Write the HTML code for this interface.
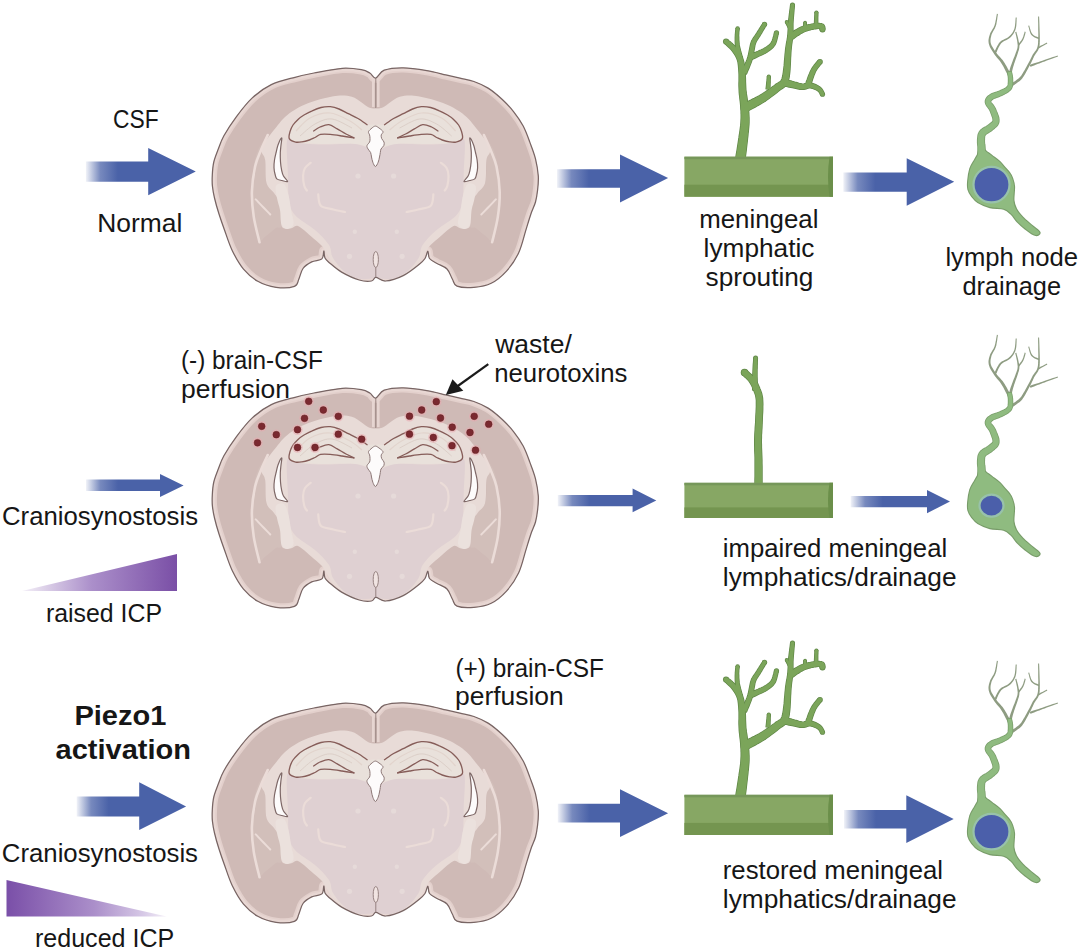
<!DOCTYPE html><html><head><meta charset="utf-8"><style>html,body{margin:0;padding:0;background:#fff;}svg{display:block}text{font-family:"Liberation Sans",sans-serif;fill:#161616}</style></head><body>
<svg width="1080" height="950" viewBox="0 0 1080 950">
<rect width="1080" height="950" fill="#fff"/>
<defs><clipPath id="bclip"><path d="M375.8 78C378.2 77.5 379.6 71.9 384.2 70.2C388.8 68.5 396 67.7 403.1 67.8C410.2 67.9 419.7 69.4 426.8 70.6C433.9 71.8 440.3 73.6 445.8 74.9C451.3 76.2 455.3 77.1 460 78.2C464.7 79.3 469.2 79.8 473.9 81.5C478.6 83.2 483.4 85.1 488.1 88.1C492.8 91.1 498 95.5 502.3 99.5C506.6 103.5 510.2 107.4 513.7 111.8C517.2 116.2 520.5 121 523.2 126C525.9 131.1 527.8 136.6 529.8 142.1C531.8 147.6 534.1 153.2 535.5 158.9C536.9 164.6 537.9 170.8 538.3 176C538.6 181.2 538.1 185.7 537.6 190C537.1 194.3 536.6 198 535.5 202C534.4 206 532.5 209.3 530.9 214C529.3 218.7 527.8 223.9 525.8 230.4C523.8 236.9 521.9 246 518.7 252.8C515.5 259.6 511.1 266 506.5 271.1C501.9 276.2 496.6 280.6 491.2 283.3C485.8 286 479.6 286.9 473.9 287.4C468.2 287.9 460.6 287.6 457 286.2C453.4 284.8 454 281.9 452.3 279C450.6 276.1 449.6 271.6 447 269C444.4 266.4 439.9 265.2 437 263.5C434.1 261.8 431 260.6 429.5 258.5C428 256.4 428.6 251 427.8 251C427.1 251 426.5 256.2 425 258.5C423.5 260.8 422.6 261.6 419 264.5C415.4 267.4 408.8 272.9 403.2 275.6C397.6 278.4 390.2 280.7 385.6 281C381.1 281.3 378.2 277.4 375.9 277.4C373.5 277.4 374.3 280.6 371.5 281C368.7 281.4 364.2 281.5 359.2 280C354.2 278.5 346.5 274.9 341.6 272.1C336.7 269.3 332.5 265.4 329.7 263C326.9 260.6 326 260 325 258C324 256 324.3 250.8 323.8 251C323.3 251.2 323.9 257.1 321.9 258.9C319.9 260.7 314.8 260.3 311.7 261.9C308.6 263.5 305.1 265.6 303 268.5C300.9 271.4 300.2 276.2 298.8 279.2C297.4 282.2 298.2 285 294.4 286.4C290.6 287.8 282.2 288.2 276.1 287.4C270 286.5 263.2 284.4 257.8 281.3C252.4 278.2 247.8 274.2 243.5 269.1C239.2 264 235.5 257.2 232.3 250.7C229.1 244.2 226.7 236.1 224.5 230C222.3 223.9 220.7 219.3 219 214C217.3 208.7 215.6 202.7 214.5 198C213.4 193.3 212.8 189.8 212.4 186C212 182.2 212.1 179 212.3 175C212.5 171 212.8 166.3 213.8 162C214.8 157.7 216.6 153.4 218.3 149C220 144.6 220.9 141.2 223.9 135.8C226.9 130.4 231.6 123.1 236.3 116.8C241 110.5 246.5 103.3 252.3 97.9C258.1 92.5 264.2 88 271.3 84.6C278.4 81.2 287.9 79.2 295 77.3C302.1 75.4 306.1 74.5 314 73C321.9 71.5 334.4 68.8 342.3 68.3C350.2 67.8 356.7 68.9 361.3 69.7C365.9 70.5 367.4 71.6 369.8 73C372.2 74.4 373.4 78.5 375.8 78Z"/></clipPath><g id="brain"><path d="M375.8 78C378.2 77.5 379.6 71.9 384.2 70.2C388.8 68.5 396 67.7 403.1 67.8C410.2 67.9 419.7 69.4 426.8 70.6C433.9 71.8 440.3 73.6 445.8 74.9C451.3 76.2 455.3 77.1 460 78.2C464.7 79.3 469.2 79.8 473.9 81.5C478.6 83.2 483.4 85.1 488.1 88.1C492.8 91.1 498 95.5 502.3 99.5C506.6 103.5 510.2 107.4 513.7 111.8C517.2 116.2 520.5 121 523.2 126C525.9 131.1 527.8 136.6 529.8 142.1C531.8 147.6 534.1 153.2 535.5 158.9C536.9 164.6 537.9 170.8 538.3 176C538.6 181.2 538.1 185.7 537.6 190C537.1 194.3 536.6 198 535.5 202C534.4 206 532.5 209.3 530.9 214C529.3 218.7 527.8 223.9 525.8 230.4C523.8 236.9 521.9 246 518.7 252.8C515.5 259.6 511.1 266 506.5 271.1C501.9 276.2 496.6 280.6 491.2 283.3C485.8 286 479.6 286.9 473.9 287.4C468.2 287.9 460.6 287.6 457 286.2C453.4 284.8 454 281.9 452.3 279C450.6 276.1 449.6 271.6 447 269C444.4 266.4 439.9 265.2 437 263.5C434.1 261.8 431 260.6 429.5 258.5C428 256.4 428.6 251 427.8 251C427.1 251 426.5 256.2 425 258.5C423.5 260.8 422.6 261.6 419 264.5C415.4 267.4 408.8 272.9 403.2 275.6C397.6 278.4 390.2 280.7 385.6 281C381.1 281.3 378.2 277.4 375.9 277.4C373.5 277.4 374.3 280.6 371.5 281C368.7 281.4 364.2 281.5 359.2 280C354.2 278.5 346.5 274.9 341.6 272.1C336.7 269.3 332.5 265.4 329.7 263C326.9 260.6 326 260 325 258C324 256 324.3 250.8 323.8 251C323.3 251.2 323.9 257.1 321.9 258.9C319.9 260.7 314.8 260.3 311.7 261.9C308.6 263.5 305.1 265.6 303 268.5C300.9 271.4 300.2 276.2 298.8 279.2C297.4 282.2 298.2 285 294.4 286.4C290.6 287.8 282.2 288.2 276.1 287.4C270 286.5 263.2 284.4 257.8 281.3C252.4 278.2 247.8 274.2 243.5 269.1C239.2 264 235.5 257.2 232.3 250.7C229.1 244.2 226.7 236.1 224.5 230C222.3 223.9 220.7 219.3 219 214C217.3 208.7 215.6 202.7 214.5 198C213.4 193.3 212.8 189.8 212.4 186C212 182.2 212.1 179 212.3 175C212.5 171 212.8 166.3 213.8 162C214.8 157.7 216.6 153.4 218.3 149C220 144.6 220.9 141.2 223.9 135.8C226.9 130.4 231.6 123.1 236.3 116.8C241 110.5 246.5 103.3 252.3 97.9C258.1 92.5 264.2 88 271.3 84.6C278.4 81.2 287.9 79.2 295 77.3C302.1 75.4 306.1 74.5 314 73C321.9 71.5 334.4 68.8 342.3 68.3C350.2 67.8 356.7 68.9 361.3 69.7C365.9 70.5 367.4 71.6 369.8 73C372.2 74.4 373.4 78.5 375.8 78Z" fill="#cfbab6"/><g clip-path="url(#bclip)"><path d="M375.8 78C378.2 77.5 379.6 71.9 384.2 70.2C388.8 68.5 396 67.7 403.1 67.8C410.2 67.9 419.7 69.4 426.8 70.6C433.9 71.8 440.3 73.6 445.8 74.9C451.3 76.2 455.3 77.1 460 78.2C464.7 79.3 469.2 79.8 473.9 81.5C478.6 83.2 483.4 85.1 488.1 88.1C492.8 91.1 498 95.5 502.3 99.5C506.6 103.5 510.2 107.4 513.7 111.8C517.2 116.2 520.5 121 523.2 126C525.9 131.1 527.8 136.6 529.8 142.1C531.8 147.6 534.1 153.2 535.5 158.9C536.9 164.6 537.9 170.8 538.3 176C538.6 181.2 538.1 185.7 537.6 190C537.1 194.3 536.6 198 535.5 202C534.4 206 532.5 209.3 530.9 214C529.3 218.7 527.8 223.9 525.8 230.4C523.8 236.9 521.9 246 518.7 252.8C515.5 259.6 511.1 266 506.5 271.1C501.9 276.2 496.6 280.6 491.2 283.3C485.8 286 479.6 286.9 473.9 287.4C468.2 287.9 460.6 287.6 457 286.2C453.4 284.8 454 281.9 452.3 279C450.6 276.1 449.6 271.6 447 269C444.4 266.4 439.9 265.2 437 263.5C434.1 261.8 431 260.6 429.5 258.5C428 256.4 428.6 251 427.8 251C427.1 251 426.5 256.2 425 258.5C423.5 260.8 422.6 261.6 419 264.5C415.4 267.4 408.8 272.9 403.2 275.6C397.6 278.4 390.2 280.7 385.6 281C381.1 281.3 378.2 277.4 375.9 277.4C373.5 277.4 374.3 280.6 371.5 281C368.7 281.4 364.2 281.5 359.2 280C354.2 278.5 346.5 274.9 341.6 272.1C336.7 269.3 332.5 265.4 329.7 263C326.9 260.6 326 260 325 258C324 256 324.3 250.8 323.8 251C323.3 251.2 323.9 257.1 321.9 258.9C319.9 260.7 314.8 260.3 311.7 261.9C308.6 263.5 305.1 265.6 303 268.5C300.9 271.4 300.2 276.2 298.8 279.2C297.4 282.2 298.2 285 294.4 286.4C290.6 287.8 282.2 288.2 276.1 287.4C270 286.5 263.2 284.4 257.8 281.3C252.4 278.2 247.8 274.2 243.5 269.1C239.2 264 235.5 257.2 232.3 250.7C229.1 244.2 226.7 236.1 224.5 230C222.3 223.9 220.7 219.3 219 214C217.3 208.7 215.6 202.7 214.5 198C213.4 193.3 212.8 189.8 212.4 186C212 182.2 212.1 179 212.3 175C212.5 171 212.8 166.3 213.8 162C214.8 157.7 216.6 153.4 218.3 149C220 144.6 220.9 141.2 223.9 135.8C226.9 130.4 231.6 123.1 236.3 116.8C241 110.5 246.5 103.3 252.3 97.9C258.1 92.5 264.2 88 271.3 84.6C278.4 81.2 287.9 79.2 295 77.3C302.1 75.4 306.1 74.5 314 73C321.9 71.5 334.4 68.8 342.3 68.3C350.2 67.8 356.7 68.9 361.3 69.7C365.9 70.5 367.4 71.6 369.8 73C372.2 74.4 373.4 78.5 375.8 78Z" fill="none" stroke="#e3d0cc" stroke-width="9.5"/><path d="M375.8 78C378.2 77.5 379.6 71.9 384.2 70.2C388.8 68.5 396 67.7 403.1 67.8C410.2 67.9 419.7 69.4 426.8 70.6C433.9 71.8 440.3 73.6 445.8 74.9C451.3 76.2 455.3 77.1 460 78.2C464.7 79.3 469.2 79.8 473.9 81.5C478.6 83.2 483.4 85.1 488.1 88.1C492.8 91.1 498 95.5 502.3 99.5C506.6 103.5 510.2 107.4 513.7 111.8C517.2 116.2 520.5 121 523.2 126C525.9 131.1 527.8 136.6 529.8 142.1C531.8 147.6 534.1 153.2 535.5 158.9C536.9 164.6 537.9 170.8 538.3 176C538.6 181.2 538.1 185.7 537.6 190C537.1 194.3 536.6 198 535.5 202C534.4 206 532.5 209.3 530.9 214C529.3 218.7 527.8 223.9 525.8 230.4C523.8 236.9 521.9 246 518.7 252.8C515.5 259.6 511.1 266 506.5 271.1C501.9 276.2 496.6 280.6 491.2 283.3C485.8 286 479.6 286.9 473.9 287.4C468.2 287.9 460.6 287.6 457 286.2C453.4 284.8 454 281.9 452.3 279C450.6 276.1 449.6 271.6 447 269C444.4 266.4 439.9 265.2 437 263.5C434.1 261.8 431 260.6 429.5 258.5C428 256.4 428.6 251 427.8 251C427.1 251 426.5 256.2 425 258.5C423.5 260.8 422.6 261.6 419 264.5C415.4 267.4 408.8 272.9 403.2 275.6C397.6 278.4 390.2 280.7 385.6 281C381.1 281.3 378.2 277.4 375.9 277.4C373.5 277.4 374.3 280.6 371.5 281C368.7 281.4 364.2 281.5 359.2 280C354.2 278.5 346.5 274.9 341.6 272.1C336.7 269.3 332.5 265.4 329.7 263C326.9 260.6 326 260 325 258C324 256 324.3 250.8 323.8 251C323.3 251.2 323.9 257.1 321.9 258.9C319.9 260.7 314.8 260.3 311.7 261.9C308.6 263.5 305.1 265.6 303 268.5C300.9 271.4 300.2 276.2 298.8 279.2C297.4 282.2 298.2 285 294.4 286.4C290.6 287.8 282.2 288.2 276.1 287.4C270 286.5 263.2 284.4 257.8 281.3C252.4 278.2 247.8 274.2 243.5 269.1C239.2 264 235.5 257.2 232.3 250.7C229.1 244.2 226.7 236.1 224.5 230C222.3 223.9 220.7 219.3 219 214C217.3 208.7 215.6 202.7 214.5 198C213.4 193.3 212.8 189.8 212.4 186C212 182.2 212.1 179 212.3 175C212.5 171 212.8 166.3 213.8 162C214.8 157.7 216.6 153.4 218.3 149C220 144.6 220.9 141.2 223.9 135.8C226.9 130.4 231.6 123.1 236.3 116.8C241 110.5 246.5 103.3 252.3 97.9C258.1 92.5 264.2 88 271.3 84.6C278.4 81.2 287.9 79.2 295 77.3C302.1 75.4 306.1 74.5 314 73C321.9 71.5 334.4 68.8 342.3 68.3C350.2 67.8 356.7 68.9 361.3 69.7C365.9 70.5 367.4 71.6 369.8 73C372.2 74.4 373.4 78.5 375.8 78Z" fill="none" stroke="#e8d7d3" stroke-width="6"/><path d="M266 138C264.2 139.5 260.1 145 258 150C255.9 155 254.4 161 253.5 168C252.6 175 252.2 184.2 252.3 192C252.4 199.8 253 207 254 215C255 223 256.5 236.5 258.5 240C260.5 243.5 263.1 238 266 236C268.9 234 273.4 229.7 276 228C278.6 226.3 280.7 229.6 281.6 225.9C282.5 222.2 282.9 211.2 281.6 205.7C280.3 200.2 276.5 196.9 274 193.1C271.5 189.3 268 188.5 266.5 183C265 177.5 264.8 167.3 265.2 160.3C265.6 153.3 268.9 144.7 269 141C269.1 137.3 267.8 136.5 266 138Z" fill="#d2bfba"/><path d="M485.6 138C487.4 139.5 491.5 145 493.6 150C495.7 155 497.2 161 498.1 168C499.1 175 499.4 184.2 499.3 192C499.2 199.8 498.6 207 497.6 215C496.6 223 495.1 236.5 493.1 240C491.1 243.5 488.5 238 485.6 236C482.7 234 478.2 229.7 475.6 228C473 226.3 470.9 229.6 470 225.9C469.1 222.2 468.7 211.2 470 205.7C471.3 200.2 475.1 196.9 477.6 193.1C480.1 189.3 483.6 188.5 485.1 183C486.6 177.5 486.8 167.3 486.4 160.3C486 153.3 482.7 144.7 482.6 141C482.5 137.3 483.8 136.5 485.6 138Z" fill="#d2bfba"/><path d="M375.8 108.5C373.5 108.5 371.3 108.6 368.9 107.6C366.5 106.6 364.1 104.1 361.3 102.3C358.5 100.5 355.8 97.8 351.8 96.7C347.9 95.6 342.9 95.3 337.6 95.7C332.3 96.1 325.4 97.8 320 99.3C314.6 100.8 309.7 102.5 305 104.5C300.3 106.5 295.7 109.1 292 111.5C288.3 113.9 285.7 116.3 283 119C280.3 121.7 278.4 124.5 276 127.5C273.6 130.5 271 133.6 268.5 137C266 140.4 262.1 145.3 261 148C259.9 150.7 261.3 150.9 262 153C262.7 155.1 264.4 155.3 265.2 160.3C265.9 165.3 265 177.5 266.5 183C268 188.5 271.5 189.3 274 193.1C276.5 196.9 280.3 200.2 281.6 205.7C282.9 211.2 280.1 222.1 281.6 225.9C283.1 229.7 287.8 228.4 290.5 228.4C293.2 228.4 294.6 224.6 298 225.9C301.4 227.2 306.9 232.8 310.7 236C314.5 239.2 318.4 242.3 321 245C323.6 247.7 324.2 249.2 326 252C327.8 254.8 328.8 258.5 332 262C335.2 265.5 340.3 270.2 345 273C349.7 275.8 354.9 278.2 360 279C365.1 279.8 370.5 278 375.8 278C381.1 278 386.5 279.8 391.6 279C396.7 278.2 401.9 275.8 406.6 273C411.3 270.2 416.4 265.5 419.6 262C422.8 258.5 423.8 254.8 425.6 252C427.4 249.2 428.1 247.7 430.6 245C433.2 242.3 437.1 239.2 440.9 236C444.7 232.8 450.2 227.2 453.6 225.9C457 224.6 458.4 228.4 461.1 228.4C463.8 228.4 468.5 229.7 470 225.9C471.5 222.1 468.7 211.2 470 205.7C471.3 200.2 475.1 196.9 477.6 193.1C480.1 189.3 483.6 188.5 485.1 183C486.6 177.5 485.7 165.3 486.4 160.3C487.2 155.3 488.9 155.1 489.6 153C490.3 150.9 491.7 150.7 490.6 148C489.5 145.3 485.6 140.4 483.1 137C480.6 133.6 478 130.5 475.6 127.5C473.2 124.5 471.3 121.7 468.6 119C465.9 116.3 463.3 113.9 459.6 111.5C455.9 109.1 451.3 106.5 446.6 104.5C441.9 102.5 437 100.8 431.6 99.3C426.2 97.8 419.3 96.1 414 95.7C408.7 95.3 403.8 95.6 399.8 96.7C395.9 97.8 393.1 100.5 390.3 102.3C387.5 104.1 385.1 106.6 382.7 107.6C380.3 108.6 378.1 108.5 375.8 108.5Z" fill="#e8dbd7"/><path d="M375.8 151C372.5 151 369.7 148.2 366 147C362.3 145.8 359.4 143.9 353.4 143.5C347.4 143.1 337.2 144.4 330 144.5C322.8 144.6 316 144.4 310 144C304 143.6 297.8 142.5 294 142C290.2 141.5 288 135.8 287 141C286 146.2 287.6 163.1 287.9 172.9C288.2 182.7 287.8 193 289 200C290.2 207 290.7 210 295 215C299.3 220 309.3 225 315 230C320.7 235 326 240.3 329 245C332 249.7 330.3 253.5 333 258C335.7 262.5 340.5 268.5 345 272C349.5 275.5 354.9 278 360 279C365.1 280 370.5 278 375.8 278C381.1 278 386.5 280 391.6 279C396.7 278 402.1 275.5 406.6 272C411.1 268.5 415.9 262.5 418.6 258C421.3 253.5 419.6 249.7 422.6 245C425.6 240.3 430.9 235 436.6 230C442.3 225 452.3 220 456.6 215C460.9 210 461.4 207 462.6 200C463.8 193 463.4 182.7 463.7 172.9C464 163.1 465.6 146.2 464.6 141C463.6 135.8 461.4 141.5 457.6 142C453.8 142.5 447.6 143.6 441.6 144C435.6 144.4 428.8 144.6 421.6 144.5C414.4 144.4 404.2 143.1 398.2 143.5C392.2 143.9 389.3 145.8 385.6 147C381.9 148.2 379.1 151 375.8 151Z" fill="#dfd0d2"/></g><path d="M267.7 135C266.6 137.5 263.1 144.7 261 150C258.9 155.3 256.6 159.6 255.1 166.6C253.6 173.6 252.1 183.4 251.9 191.8C251.7 200.2 252.5 208.7 253.8 217.1C255.1 225.5 258.6 238.1 259.5 242.3" fill="none" stroke="#ebdcd8" stroke-width="2.6" stroke-linecap="round"/><path d="M255.7 199.4C256.9 200.7 260.6 204.5 263 207C265.4 209.5 269.1 213.2 270.3 214.5" fill="none" stroke="#ebdcd8" stroke-width="2.0" stroke-linecap="round"/><path d="M310.7 162.8C309.8 163.7 306.3 165.8 305 168C303.7 170.2 303.2 173 303.1 176C303 179 303.7 183.6 304.3 186C304.9 188.4 306.5 189.8 306.9 190.6" fill="none" stroke="#ebdcd8" stroke-width="2.2" stroke-linecap="round"/><path d="M318.2 194.3C318.6 196.2 318.3 203.2 320.8 205.7C323.3 208.2 329.4 208.4 333.4 209.5C337.4 210.6 343.1 211.6 345 212" fill="none" stroke="#ebdcd8" stroke-width="2.2" stroke-linecap="round"/><path d="M276 186C277.2 183.7 281.9 182.5 284 184C286.1 185.5 287.3 190.7 288.5 195C289.7 199.3 290.2 205.2 291 210C291.8 214.8 294.2 220.8 293.5 224C292.8 227.2 289 229 287 229C285 229 282.7 227.2 281.5 224C280.3 220.8 280.8 214.3 280 210C279.2 205.7 277.7 202 277 198C276.3 194 274.8 188.3 276 186Z" fill="#ebe1dd"/><circle cx="358.0" cy="176.0" r="2.6" fill="#e6dad9"/><circle cx="354.8" cy="231.7" r="2.2" fill="#e6dad9"/><circle cx="349.5" cy="256.3" r="2.6" fill="#e6dad9"/><path d="M367.1 124.7C364.1 123.5 361.1 120.3 358 118.5C354.9 116.7 351.5 115.2 348.3 113.6C345.1 112 342 110.2 339 109C336 107.8 333.3 107 330.3 106.7C327.3 106.5 324 106.8 321 107.5C318 108.2 315 109.5 312.2 110.8C309.4 112 306.3 113.6 304 115C301.7 116.4 300.1 117.5 298.3 119.2C296.5 120.9 294.4 122.9 293 125C291.6 127.1 290.6 129.4 290 131.7C289.4 134 288.4 136.8 289.3 138.6C290.2 140.4 290.5 141.7 295.6 142.6C300.7 143.5 310.9 143.8 320 144C329.1 144.2 342.3 143.2 350 143.5C357.7 143.8 361.7 145.1 366 146C370.3 146.9 374.2 152.3 375.8 149C377.4 145.7 377.2 130.1 375.8 126C374.4 122 370.1 126 367.1 124.7Z" fill="#e9e1db"/><path d="M296 131C298.3 128.8 304.3 121 310 118C315.7 115 323.3 112.5 330 113C336.7 113.5 344.7 118.2 350 121C355.3 123.8 360 128.5 362 130" fill="none" stroke="#e2d4cd" stroke-width="1.2"/><path d="M300 136C302.5 134 309.7 126.8 315 124C320.3 121.2 325.8 118.3 332 119C338.2 119.7 348.7 126.5 352 128" fill="none" stroke="#dccfc8" stroke-width="1"/><path d="M367.1 124.7C365.6 123.7 361.1 120.3 358 118.5C354.9 116.7 351.5 115.2 348.3 113.6C345.1 112 342 110.2 339 109C336 107.8 333.3 107 330.3 106.7C327.3 106.5 324 106.8 321 107.5C318 108.2 315 109.5 312.2 110.8C309.4 112 306.3 113.6 304 115C301.7 116.4 300.1 117.5 298.3 119.2C296.5 120.9 294.4 122.9 293 125C291.6 127.1 290.6 129.4 290 131.7C289.4 134 288.4 136.9 289.3 138.6C290.2 140.3 293.5 141.6 295.6 142.1C297.7 142.6 299.7 142.2 302 141.8C304.3 141.5 307.2 140.7 309.4 140C311.6 139.3 313.1 138.4 315 137.5C316.9 136.6 318.1 134.9 320.6 134.4C323.2 133.9 326.7 134.1 330.3 134.4C333.9 134.7 338.1 135.4 342 136C345.9 136.6 351.9 137.6 353.9 137.9" fill="none" stroke="#865d59" stroke-width="1.35" stroke-linejoin="round" stroke-linecap="round"/><path d="M353.9 137.9C352.6 137.2 348.8 135.5 346 134C343.2 132.5 340.1 130.5 337.2 128.9C334.3 127.4 331.8 125 328.9 124.7C326 124.4 322.6 126 320 127C317.4 128.1 314.7 130.3 313.6 131" fill="none" stroke="#865d59" stroke-width="1.3" stroke-linecap="round"/><path d="M281.7 137.9C281.2 137.9 278.9 142.6 278 145C277.1 147.4 276.7 150 276.1 152.5C275.5 155 274.9 157.4 274.5 160C274.1 162.6 273.9 165.5 274 167.8C274.1 170.1 274.5 172.2 275 174C275.5 175.8 275.6 177.8 276.8 178.9C278 180 280.2 180.1 282 180.5C283.8 180.9 287.4 182.2 287.6 181.5C287.9 180.8 284.5 177.8 283.5 176C282.5 174.2 282.2 172.9 281.7 170.6C281.2 168.3 280.7 165 280.5 162C280.3 159 280.2 155.3 280.3 152.5C280.4 149.7 280.8 147.4 281 145C281.2 142.6 282.2 137.9 281.7 137.9Z" fill="#fdfbfb" stroke="#7d6766" stroke-width="1.2"/><path d="M483.9 135C485 137.5 488.5 144.7 490.6 150C492.7 155.3 495 159.6 496.5 166.6C498 173.6 499.5 183.4 499.7 191.8C499.9 200.2 499.1 208.7 497.8 217.1C496.5 225.5 493.1 238.1 492.1 242.3" fill="none" stroke="#ebdcd8" stroke-width="2.6" stroke-linecap="round"/><path d="M495.9 199.4C494.7 200.7 491 204.5 488.6 207C486.2 209.5 482.5 213.2 481.3 214.5" fill="none" stroke="#ebdcd8" stroke-width="2.0" stroke-linecap="round"/><path d="M440.9 162.8C441.9 163.7 445.3 165.8 446.6 168C447.9 170.2 448.4 173 448.5 176C448.6 179 447.9 183.6 447.3 186C446.7 188.4 445.1 189.8 444.7 190.6" fill="none" stroke="#ebdcd8" stroke-width="2.2" stroke-linecap="round"/><path d="M433.4 194.3C433 196.2 433.3 203.2 430.8 205.7C428.3 208.2 422.2 208.4 418.2 209.5C414.2 210.6 408.5 211.6 406.6 212" fill="none" stroke="#ebdcd8" stroke-width="2.2" stroke-linecap="round"/><path d="M475.6 186C474.4 183.7 469.7 182.5 467.6 184C465.5 185.5 464.3 190.7 463.1 195C461.9 199.3 461.4 205.2 460.6 210C459.8 214.8 457.4 220.8 458.1 224C458.8 227.2 462.6 229 464.6 229C466.6 229 468.9 227.2 470.1 224C471.3 220.8 470.9 214.3 471.6 210C472.4 205.7 473.9 202 474.6 198C475.3 194 476.8 188.3 475.6 186Z" fill="#ebe1dd"/><circle cx="393.6" cy="176.0" r="2.6" fill="#e6dad9"/><circle cx="396.8" cy="231.7" r="2.2" fill="#e6dad9"/><circle cx="402.1" cy="256.3" r="2.6" fill="#e6dad9"/><path d="M384.5 124.7C387.5 123.5 390.5 120.3 393.6 118.5C396.7 116.7 400.1 115.2 403.3 113.6C406.5 112 409.6 110.2 412.6 109C415.6 107.8 418.3 107 421.3 106.7C424.3 106.5 427.6 106.8 430.6 107.5C433.6 108.2 436.6 109.5 439.4 110.8C442.2 112 445.3 113.6 447.6 115C449.9 116.4 451.5 117.5 453.3 119.2C455.1 120.9 457.2 122.9 458.6 125C460 127.1 461 129.4 461.6 131.7C462.2 134 463.2 136.8 462.3 138.6C461.4 140.4 461.1 141.7 456 142.6C450.9 143.5 440.7 143.8 431.6 144C422.5 144.2 409.3 143.2 401.6 143.5C393.9 143.8 389.9 145.1 385.6 146C381.3 146.9 377.4 152.3 375.8 149C374.2 145.7 374.4 130.1 375.8 126C377.2 122 381.5 126 384.5 124.7Z" fill="#e9e1db"/><path d="M455.6 131C453.3 128.8 447.3 121 441.6 118C435.9 115 428.3 112.5 421.6 113C414.9 113.5 406.9 118.2 401.6 121C396.3 123.8 391.6 128.5 389.6 130" fill="none" stroke="#e2d4cd" stroke-width="1.2"/><path d="M451.6 136C449.1 134 441.9 126.8 436.6 124C431.3 121.2 425.8 118.3 419.6 119C413.4 119.7 402.9 126.5 399.6 128" fill="none" stroke="#dccfc8" stroke-width="1"/><path d="M384.5 124.7C386 123.7 390.5 120.3 393.6 118.5C396.7 116.7 400.1 115.2 403.3 113.6C406.5 112 409.6 110.2 412.6 109C415.6 107.8 418.3 107 421.3 106.7C424.3 106.5 427.6 106.8 430.6 107.5C433.6 108.2 436.6 109.5 439.4 110.8C442.2 112 445.3 113.6 447.6 115C449.9 116.4 451.5 117.5 453.3 119.2C455.1 120.9 457.2 122.9 458.6 125C460 127.1 461 129.4 461.6 131.7C462.2 134 463.2 136.9 462.3 138.6C461.4 140.3 458.1 141.6 456 142.1C453.9 142.6 451.9 142.2 449.6 141.8C447.3 141.5 444.4 140.7 442.2 140C440 139.3 438.5 138.4 436.6 137.5C434.7 136.6 433.6 134.9 431 134.4C428.4 133.9 424.9 134.1 421.3 134.4C417.7 134.7 413.5 135.4 409.6 136C405.7 136.6 399.7 137.6 397.7 137.9" fill="none" stroke="#865d59" stroke-width="1.35" stroke-linejoin="round" stroke-linecap="round"/><path d="M397.7 137.9C399 137.2 402.8 135.5 405.6 134C408.4 132.5 411.6 130.5 414.4 128.9C417.3 127.4 419.8 125 422.7 124.7C425.6 124.4 429.1 126 431.6 127C434.2 128.1 436.9 130.3 438 131" fill="none" stroke="#865d59" stroke-width="1.3" stroke-linecap="round"/><path d="M469.9 137.9C470.4 137.9 472.7 142.6 473.6 145C474.5 147.4 474.9 150 475.5 152.5C476.1 155 476.8 157.4 477.1 160C477.5 162.6 477.7 165.5 477.6 167.8C477.5 170.1 477.1 172.2 476.6 174C476.1 175.8 476 177.8 474.8 178.9C473.6 180 471.4 180.1 469.6 180.5C467.8 180.9 464.2 182.2 464 181.5C463.8 180.8 467.1 177.8 468.1 176C469.1 174.2 469.4 172.9 469.9 170.6C470.4 168.3 470.9 165 471.1 162C471.3 159 471.4 155.3 471.3 152.5C471.2 149.7 470.8 147.4 470.6 145C470.4 142.6 469.4 137.9 469.9 137.9Z" fill="#fdfbfb" stroke="#7d6766" stroke-width="1.2"/><path d="M373.3 80 L373.3 107 M378.3 80 L378.3 107" stroke="#e6d5d1" stroke-width="2.6" fill="none"/><path d="M375.8 78 L375.8 108" stroke="#8f7a78" stroke-width="0.9" fill="none"/><path d="M375.4 126.1C376.6 126.1 377.7 127.1 379 128C380.3 128.9 382.6 130.5 383 131.7C383.4 132.9 381.4 133.8 381.2 135C381 136.2 381.2 137.4 381.7 138.6C382.2 139.8 383.6 140.8 384 142C384.4 143.2 384.3 144.4 383.8 145.6C383.3 146.8 381.6 147.8 381 149C380.4 150.2 380.6 151.2 380.3 152.5C380.1 153.8 379.9 155.4 379.5 157C379.1 158.6 378.9 160.6 378.2 162.2C377.5 163.8 376.3 166.5 375.4 166.5C374.5 166.5 373.4 163.8 372.8 162.2C372.2 160.6 371.9 158.6 371.5 157C371.1 155.4 371.2 153.8 370.6 152.5C370 151.2 368.6 150.2 368 149C367.4 147.8 366.7 146.8 367 145.6C367.3 144.4 369.1 143.2 369.6 142C370.1 140.8 370 139.8 370 138.6C370 137.4 369.9 136.2 369.6 135C369.4 133.8 368.1 132.9 368.5 131.7C368.9 130.5 370.9 128.9 372 128C373.1 127.1 374.2 126.1 375.4 126.1Z" fill="#fdfbfb" stroke="#8d7877" stroke-width="1"/><ellipse cx="375.8" cy="259.5" rx="2.6" ry="8" fill="#f1e4e2" stroke="#8d7877" stroke-width="0.9"/><path d="M375.8 267.5 L375.8 278" stroke="#8d7877" stroke-width="0.9"/><path d="M375.8 78C378.2 77.5 379.6 71.9 384.2 70.2C388.8 68.5 396 67.7 403.1 67.8C410.2 67.9 419.7 69.4 426.8 70.6C433.9 71.8 440.3 73.6 445.8 74.9C451.3 76.2 455.3 77.1 460 78.2C464.7 79.3 469.2 79.8 473.9 81.5C478.6 83.2 483.4 85.1 488.1 88.1C492.8 91.1 498 95.5 502.3 99.5C506.6 103.5 510.2 107.4 513.7 111.8C517.2 116.2 520.5 121 523.2 126C525.9 131.1 527.8 136.6 529.8 142.1C531.8 147.6 534.1 153.2 535.5 158.9C536.9 164.6 537.9 170.8 538.3 176C538.6 181.2 538.1 185.7 537.6 190C537.1 194.3 536.6 198 535.5 202C534.4 206 532.5 209.3 530.9 214C529.3 218.7 527.8 223.9 525.8 230.4C523.8 236.9 521.9 246 518.7 252.8C515.5 259.6 511.1 266 506.5 271.1C501.9 276.2 496.6 280.6 491.2 283.3C485.8 286 479.6 286.9 473.9 287.4C468.2 287.9 460.6 287.6 457 286.2C453.4 284.8 454 281.9 452.3 279C450.6 276.1 449.6 271.6 447 269C444.4 266.4 439.9 265.2 437 263.5C434.1 261.8 431 260.6 429.5 258.5C428 256.4 428.6 251 427.8 251C427.1 251 426.5 256.2 425 258.5C423.5 260.8 422.6 261.6 419 264.5C415.4 267.4 408.8 272.9 403.2 275.6C397.6 278.4 390.2 280.7 385.6 281C381.1 281.3 378.2 277.4 375.9 277.4C373.5 277.4 374.3 280.6 371.5 281C368.7 281.4 364.2 281.5 359.2 280C354.2 278.5 346.5 274.9 341.6 272.1C336.7 269.3 332.5 265.4 329.7 263C326.9 260.6 326 260 325 258C324 256 324.3 250.8 323.8 251C323.3 251.2 323.9 257.1 321.9 258.9C319.9 260.7 314.8 260.3 311.7 261.9C308.6 263.5 305.1 265.6 303 268.5C300.9 271.4 300.2 276.2 298.8 279.2C297.4 282.2 298.2 285 294.4 286.4C290.6 287.8 282.2 288.2 276.1 287.4C270 286.5 263.2 284.4 257.8 281.3C252.4 278.2 247.8 274.2 243.5 269.1C239.2 264 235.5 257.2 232.3 250.7C229.1 244.2 226.7 236.1 224.5 230C222.3 223.9 220.7 219.3 219 214C217.3 208.7 215.6 202.7 214.5 198C213.4 193.3 212.8 189.8 212.4 186C212 182.2 212.1 179 212.3 175C212.5 171 212.8 166.3 213.8 162C214.8 157.7 216.6 153.4 218.3 149C220 144.6 220.9 141.2 223.9 135.8C226.9 130.4 231.6 123.1 236.3 116.8C241 110.5 246.5 103.3 252.3 97.9C258.1 92.5 264.2 88 271.3 84.6C278.4 81.2 287.9 79.2 295 77.3C302.1 75.4 306.1 74.5 314 73C321.9 71.5 334.4 68.8 342.3 68.3C350.2 67.8 356.7 68.9 361.3 69.7C365.9 70.5 367.4 71.6 369.8 73C372.2 74.4 373.4 78.5 375.8 78Z" fill="none" stroke="#786564" stroke-width="1.25"/></g><linearGradient id="ag0" gradientUnits="userSpaceOnUse" x1="85.9" y1="0" x2="117.9" y2="0"><stop offset="0" stop-color="#4a62a8" stop-opacity="0.08"/><stop offset="0.45" stop-color="#4a62a8" stop-opacity="0.75"/><stop offset="1" stop-color="#4a62a8"/></linearGradient><linearGradient id="ag1" gradientUnits="userSpaceOnUse" x1="557" y1="0" x2="589" y2="0"><stop offset="0" stop-color="#4a62a8" stop-opacity="0.08"/><stop offset="0.45" stop-color="#4a62a8" stop-opacity="0.75"/><stop offset="1" stop-color="#4a62a8"/></linearGradient><linearGradient id="ag2" gradientUnits="userSpaceOnUse" x1="843.3" y1="0" x2="875.3" y2="0"><stop offset="0" stop-color="#4a62a8" stop-opacity="0.08"/><stop offset="0.45" stop-color="#4a62a8" stop-opacity="0.75"/><stop offset="1" stop-color="#4a62a8"/></linearGradient><linearGradient id="ag3" gradientUnits="userSpaceOnUse" x1="86" y1="0" x2="118" y2="0"><stop offset="0" stop-color="#4a62a8" stop-opacity="0.08"/><stop offset="0.45" stop-color="#4a62a8" stop-opacity="0.75"/><stop offset="1" stop-color="#4a62a8"/></linearGradient><linearGradient id="ag4" gradientUnits="userSpaceOnUse" x1="557.8" y1="0" x2="589.8" y2="0"><stop offset="0" stop-color="#4a62a8" stop-opacity="0.08"/><stop offset="0.45" stop-color="#4a62a8" stop-opacity="0.75"/><stop offset="1" stop-color="#4a62a8"/></linearGradient><linearGradient id="ag5" gradientUnits="userSpaceOnUse" x1="850.7" y1="0" x2="882.7" y2="0"><stop offset="0" stop-color="#4a62a8" stop-opacity="0.08"/><stop offset="0.45" stop-color="#4a62a8" stop-opacity="0.75"/><stop offset="1" stop-color="#4a62a8"/></linearGradient><linearGradient id="ag6" gradientUnits="userSpaceOnUse" x1="76.7" y1="0" x2="108.7" y2="0"><stop offset="0" stop-color="#4a62a8" stop-opacity="0.08"/><stop offset="0.45" stop-color="#4a62a8" stop-opacity="0.75"/><stop offset="1" stop-color="#4a62a8"/></linearGradient><linearGradient id="ag7" gradientUnits="userSpaceOnUse" x1="557.8" y1="0" x2="589.8" y2="0"><stop offset="0" stop-color="#4a62a8" stop-opacity="0.08"/><stop offset="0.45" stop-color="#4a62a8" stop-opacity="0.75"/><stop offset="1" stop-color="#4a62a8"/></linearGradient><linearGradient id="ag8" gradientUnits="userSpaceOnUse" x1="844" y1="0" x2="876" y2="0"><stop offset="0" stop-color="#4a62a8" stop-opacity="0.08"/><stop offset="0.45" stop-color="#4a62a8" stop-opacity="0.75"/><stop offset="1" stop-color="#4a62a8"/></linearGradient><linearGradient id="pr" gradientUnits="userSpaceOnUse" x1="22" y1="0" x2="177" y2="0"><stop offset="0" stop-color="#f4f0f8"/><stop offset="0.15" stop-color="#dcd0e8"/><stop offset="0.45" stop-color="#ab8fca"/><stop offset="1" stop-color="#7a4fa6"/></linearGradient><linearGradient id="pl" gradientUnits="userSpaceOnUse" x1="6.5" y1="0" x2="166.7" y2="0"><stop offset="0" stop-color="#7a4fa8"/><stop offset="0.55" stop-color="#ab8fca"/><stop offset="0.85" stop-color="#d6c8e6"/><stop offset="1" stop-color="#f4f0f8"/></linearGradient><g id="tree1"><path d="M745.1 158.7 L745.3 157.3 L745.5 155.4 L745.8 153.2 L746.1 150.8 L746.4 148.2 L746.7 145.5 L747.0 142.9 L747.3 140.5 L747.5 138.3 L747.8 136.0 L748.0 133.7 L748.3 131.3 L748.5 129.0 L748.7 126.7 L748.9 124.4 L749.0 122.2 L749.0 120.1 L749.0 118.1 L748.9 116.2 L748.8 114.3 L748.7 112.4 L748.5 110.6 L748.4 108.7 L748.2 106.7 L747.9 104.6 L747.6 102.5 L747.3 100.3 L747.0 98.2 L746.7 96.1 L746.3 93.9 L746.1 91.8 L745.8 89.8 L745.7 87.7 L745.6 85.5 L745.5 83.2 L745.4 80.9 L745.4 78.7 L745.3 76.4 L745.2 74.3 L745.0 72.2 L744.8 70.3 L744.6 68.4 L744.4 66.6 L744.2 64.9 L743.9 63.1 L743.6 61.4 L743.1 59.8 L742.6 58.1 L742.0 56.5 L741.2 55.0 L740.5 53.6 L739.6 52.2 L738.7 50.9 L737.8 49.7 L736.9 48.5 L736.0 47.4 L734.9 46.2 L733.7 45.0 L732.5 43.9 L731.2 42.8 L730.1 41.8 L729.0 41.0 L728.2 40.3 L727.5 39.8 L724.5 43.2 L725.1 43.8 L726.0 44.6 L726.9 45.5 L728.0 46.4 L729.1 47.5 L730.2 48.5 L731.2 49.6 L732.0 50.6 L732.8 51.7 L733.6 52.8 L734.4 53.9 L735.1 55.0 L735.8 56.2 L736.4 57.4 L736.9 58.6 L737.4 59.9 L737.8 61.2 L738.1 62.6 L738.3 64.1 L738.5 65.6 L738.6 67.2 L738.8 68.9 L738.9 70.7 L739.0 72.6 L739.1 74.5 L739.1 76.6 L739.1 78.8 L739.1 81.0 L739.0 83.3 L739.0 85.6 L739.1 87.9 L739.2 90.2 L739.3 92.5 L739.5 94.7 L739.8 97.0 L740.0 99.1 L740.3 101.3 L740.5 103.3 L740.7 105.4 L740.8 107.3 L740.9 109.2 L741.1 111.1 L741.1 112.9 L741.2 114.6 L741.2 116.3 L741.2 118.1 L741.1 119.9 L741.0 121.8 L740.9 123.8 L740.7 125.9 L740.4 128.1 L740.1 130.3 L739.8 132.6 L739.4 134.9 L739.1 137.2 L738.7 139.5 L738.4 141.8 L738.0 144.3 L737.6 146.9 L737.2 149.5 L736.8 151.9 L736.4 154.1 L736.1 156.0 L735.9 157.3Z" fill="#5f8646" stroke="#5f8646" stroke-width="1.4" stroke-linejoin="round"/><path d="M742.3 57.5 L742.1 56.6 L741.7 55.3 L741.3 53.8 L740.9 52.1 L740.4 50.4 L740.0 48.7 L739.6 47.1 L739.3 45.7 L739.1 44.4 L739.0 43.1 L738.9 41.9 L738.8 40.7 L738.7 39.4 L738.7 38.3 L738.7 37.1 L738.6 36.0 L738.6 35.0 L738.7 33.9 L738.7 32.8 L738.8 31.8 L738.9 30.8 L739.0 30.0 L739.0 29.2 L739.1 28.6 L736.1 28.4 L736.1 28.9 L736.0 29.6 L735.8 30.5 L735.7 31.5 L735.6 32.5 L735.5 33.7 L735.4 34.8 L735.4 36.0 L735.3 37.1 L735.3 38.3 L735.3 39.5 L735.3 40.8 L735.3 42.1 L735.4 43.5 L735.5 44.8 L735.7 46.3 L735.9 47.8 L736.2 49.5 L736.6 51.3 L737.0 53.1 L737.4 54.8 L737.8 56.3 L738.1 57.6 L738.3 58.5Z" fill="#5f8646" stroke="#5f8646" stroke-width="1.4" stroke-linejoin="round"/><path d="M746.4 74.0 L746.8 72.9 L747.4 71.4 L748.2 69.6 L749.1 67.6 L749.9 65.4 L750.8 63.2 L751.6 61.1 L752.2 59.0 L752.8 56.9 L753.2 54.8 L753.6 52.7 L753.9 50.6 L754.3 48.6 L754.6 46.8 L754.9 45.1 L755.3 43.7 L755.8 42.5 L756.2 41.5 L756.7 40.7 L757.2 39.9 L757.7 39.1 L758.3 38.2 L759.0 37.2 L759.7 36.1 L760.5 34.7 L761.4 33.3 L762.3 31.7 L763.2 30.1 L764.2 28.6 L765.0 27.2 L765.7 26.0 L766.2 25.2 L763.0 23.2 L762.5 24.1 L761.8 25.2 L760.9 26.6 L759.9 28.1 L759.0 29.7 L758.0 31.2 L757.1 32.7 L756.3 33.9 L755.6 35.0 L755.0 35.8 L754.4 36.7 L753.7 37.5 L753.1 38.5 L752.5 39.6 L751.8 40.8 L751.3 42.3 L750.7 44.0 L750.3 45.9 L749.9 47.8 L749.5 49.8 L749.1 51.9 L748.7 53.9 L748.3 55.8 L747.8 57.6 L747.1 59.5 L746.3 61.5 L745.4 63.6 L744.5 65.6 L743.6 67.6 L742.8 69.4 L742.2 70.9 L741.6 72.0Z" fill="#5f8646" stroke="#5f8646" stroke-width="1.4" stroke-linejoin="round"/><path d="M752.0 59.3 L752.7 59.0 L753.7 58.6 L754.9 58.0 L756.1 57.5 L757.4 56.8 L758.7 56.2 L759.9 55.7 L761.0 55.2 L761.8 54.8 L762.6 54.4 L763.3 54.1 L764.1 53.7 L764.8 53.4 L765.6 52.9 L766.4 52.4 L767.3 51.9 L768.1 51.3 L769.0 50.6 L770.0 49.9 L771.0 49.1 L772.1 48.2 L773.1 47.2 L774.0 46.1 L774.9 44.9 L775.6 43.4 L776.2 41.8 L776.7 40.1 L777.1 38.4 L777.5 36.8 L777.8 35.3 L778.1 34.1 L778.3 33.3 L774.7 32.3 L774.4 33.2 L774.1 34.5 L773.8 35.9 L773.3 37.4 L772.9 39.0 L772.4 40.5 L771.9 41.7 L771.3 42.7 L770.7 43.5 L770.0 44.3 L769.2 45.0 L768.4 45.7 L767.5 46.3 L766.5 47.0 L765.6 47.6 L764.7 48.1 L764.0 48.6 L763.4 49.0 L762.8 49.3 L762.2 49.5 L761.5 49.8 L760.8 50.1 L759.9 50.4 L759.0 50.8 L758.0 51.3 L756.8 51.8 L755.5 52.4 L754.1 52.9 L752.8 53.5 L751.7 53.9 L750.7 54.4 L750.0 54.7Z" fill="#5f8646" stroke="#5f8646" stroke-width="1.4" stroke-linejoin="round"/><path d="M746.4 111.7 L747.2 111.3 L748.3 110.7 L749.6 110.0 L751.0 109.2 L752.5 108.4 L754.0 107.6 L755.5 106.8 L756.9 106.0 L758.1 105.3 L759.3 104.6 L760.6 103.9 L761.8 103.2 L763.0 102.5 L764.3 101.7 L765.7 100.8 L767.1 99.8 L768.6 98.7 L770.2 97.5 L771.9 96.3 L773.6 95.0 L775.3 93.7 L776.9 92.4 L778.3 91.3 L779.6 90.3 L780.6 89.5 L781.5 88.9 L782.4 88.3 L783.4 87.7 L784.3 86.9 L785.3 86.0 L786.3 84.9 L787.1 83.6 L787.7 82.2 L788.2 80.9 L788.6 79.4 L788.9 78.0 L789.2 76.5 L789.4 74.8 L789.6 73.1 L789.8 71.2 L790.0 68.9 L790.1 66.4 L790.3 63.6 L790.4 60.8 L790.5 58.0 L790.7 55.2 L790.8 52.6 L791.0 50.3 L791.2 48.2 L791.4 46.3 L791.6 44.4 L791.9 42.6 L792.1 40.9 L792.4 39.2 L792.6 37.4 L792.7 35.6 L792.8 33.8 L792.9 32.1 L792.9 30.4 L792.9 28.8 L792.9 27.2 L792.9 25.5 L792.9 23.8 L793.0 22.1 L793.1 20.0 L793.3 17.7 L793.5 15.3 L793.7 12.9 L793.9 10.5 L794.1 8.4 L794.2 6.6 L794.3 5.3 L790.7 4.9 L790.5 6.2 L790.3 8.0 L790.0 10.1 L789.7 12.4 L789.4 14.9 L789.1 17.3 L788.8 19.7 L788.6 21.7 L788.5 23.6 L788.4 25.4 L788.3 27.1 L788.3 28.8 L788.2 30.4 L788.1 31.9 L788.0 33.5 L787.9 35.2 L787.7 36.8 L787.4 38.5 L787.2 40.1 L786.8 41.8 L786.5 43.6 L786.2 45.5 L785.9 47.5 L785.6 49.7 L785.4 52.1 L785.1 54.8 L784.9 57.6 L784.6 60.4 L784.4 63.2 L784.2 65.9 L783.9 68.3 L783.6 70.4 L783.4 72.3 L783.1 74.0 L782.9 75.5 L782.6 76.7 L782.4 77.8 L782.1 78.8 L781.7 79.6 L781.3 80.4 L780.9 81.0 L780.6 81.4 L780.2 81.7 L779.6 82.1 L778.8 82.5 L777.9 83.1 L776.7 83.8 L775.4 84.7 L774.1 85.7 L772.6 86.8 L771.0 88.0 L769.3 89.2 L767.6 90.4 L765.9 91.6 L764.4 92.6 L762.9 93.6 L761.6 94.4 L760.4 95.1 L759.2 95.8 L758.0 96.5 L756.8 97.1 L755.6 97.7 L754.4 98.4 L753.1 99.0 L751.7 99.7 L750.3 100.5 L748.8 101.2 L747.2 102.0 L745.8 102.7 L744.5 103.3 L743.4 103.9 L742.6 104.3Z" fill="#5f8646" stroke="#5f8646" stroke-width="1.4" stroke-linejoin="round"/><path d="M769.9 89.1 L769.9 88.6 L769.9 87.8 L769.9 86.9 L770.0 86.0 L770.0 84.9 L770.0 83.9 L770.1 83.0 L770.1 82.1 L770.1 81.3 L770.1 80.5 L770.1 79.7 L770.2 79.0 L770.2 78.3 L770.2 77.7 L770.2 77.2 L770.2 76.8 L767.4 76.6 L767.4 77.0 L767.3 77.5 L767.3 78.1 L767.2 78.8 L767.1 79.6 L767.1 80.3 L767.0 81.1 L766.9 81.9 L766.8 82.7 L766.7 83.7 L766.6 84.7 L766.5 85.7 L766.4 86.7 L766.3 87.6 L766.2 88.3 L766.1 88.9Z" fill="#5f8646" stroke="#5f8646" stroke-width="1.4" stroke-linejoin="round"/><path d="M783.2 85.7 L784.0 85.8 L785.1 86.1 L786.4 86.3 L787.8 86.7 L789.3 87.0 L790.8 87.3 L792.3 87.6 L793.5 87.8 L794.6 88.1 L795.7 88.3 L796.8 88.5 L797.8 88.8 L798.9 89.0 L800.0 89.2 L801.2 89.3 L802.5 89.3 L803.8 89.2 L805.1 89.0 L806.2 88.7 L807.3 88.4 L808.2 88.1 L809.0 87.9 L809.8 87.8 L810.5 87.8 L811.3 88.0 L812.3 88.2 L813.3 88.6 L814.4 89.0 L815.4 89.4 L816.4 89.9 L817.3 90.4 L817.9 90.8 L818.4 91.2 L818.9 91.7 L819.3 92.2 L819.7 92.9 L820.0 93.5 L820.3 94.1 L820.6 94.7 L820.9 95.1 L824.1 93.3 L824.0 93.0 L823.7 92.5 L823.5 91.8 L823.1 91.0 L822.6 90.2 L822.0 89.3 L821.3 88.4 L820.5 87.6 L819.5 86.9 L818.5 86.2 L817.4 85.6 L816.2 85.0 L815.0 84.4 L813.7 83.9 L812.4 83.5 L811.1 83.2 L809.7 83.0 L808.4 83.1 L807.2 83.3 L806.0 83.6 L805.0 83.8 L804.1 84.0 L803.3 84.1 L802.5 84.1 L801.7 84.0 L800.9 83.8 L800.0 83.6 L799.1 83.4 L798.2 83.1 L797.1 82.8 L796.0 82.5 L794.9 82.2 L793.6 81.8 L792.3 81.5 L790.8 81.0 L789.3 80.6 L787.9 80.2 L786.7 79.9 L785.6 79.6 L784.8 79.3Z" fill="#5f8646" stroke="#5f8646" stroke-width="1.4" stroke-linejoin="round"/><path d="M810.4 85.9 L810.8 84.7 L811.3 83.1 L811.9 81.3 L812.5 79.3 L813.2 77.2 L813.9 75.2 L814.7 73.4 L815.3 71.8 L816.0 70.5 L816.9 69.2 L817.8 67.9 L818.7 66.7 L819.6 65.6 L820.4 64.6 L821.1 63.7 L821.6 63.0 L818.4 60.4 L817.8 61.0 L817.1 61.8 L816.3 62.8 L815.3 64.0 L814.2 65.3 L813.2 66.7 L812.2 68.2 L811.3 69.8 L810.4 71.5 L809.6 73.5 L808.7 75.5 L807.9 77.7 L807.2 79.7 L806.5 81.5 L806.0 83.0 L805.6 84.1Z" fill="#5f8646" stroke="#5f8646" stroke-width="1.4" stroke-linejoin="round"/><path d="M792.2 39.5 L793.0 38.9 L794.1 38.2 L795.3 37.3 L796.7 36.3 L798.1 35.3 L799.6 34.3 L800.9 33.5 L802.2 32.8 L803.3 32.2 L804.5 31.7 L805.6 31.2 L806.8 30.8 L808.0 30.4 L809.2 30.0 L810.3 29.7 L811.5 29.4 L812.8 29.2 L814.1 28.9 L815.5 28.7 L816.8 28.6 L818.1 28.4 L819.2 28.4 L820.1 28.4 L820.5 28.4 L820.4 28.4 L820.2 28.1 L820.1 28.0 L820.1 28.0 L820.1 28.3 L820.1 28.8 L820.1 29.4 L820.2 29.9 L824.8 29.1 L824.8 29.1 L824.8 28.8 L824.8 28.2 L824.8 27.5 L824.6 26.5 L824.0 25.3 L823.0 24.3 L821.7 23.8 L820.5 23.6 L819.2 23.5 L817.8 23.5 L816.4 23.6 L814.9 23.7 L813.4 23.9 L811.9 24.1 L810.5 24.4 L809.1 24.6 L807.8 24.9 L806.5 25.3 L805.1 25.7 L803.8 26.1 L802.4 26.6 L801.0 27.2 L799.6 27.8 L798.2 28.6 L796.6 29.5 L795.0 30.4 L793.4 31.4 L792.0 32.4 L790.7 33.3 L789.6 34.0 L788.8 34.5Z" fill="#5f8646" stroke="#5f8646" stroke-width="1.4" stroke-linejoin="round"/><path d="M817.6 26.0 L817.6 24.9 L817.7 23.3 L817.7 21.4 L817.7 19.3 L817.7 17.3 L817.8 15.4 L817.8 13.8 L817.8 12.6 L815.0 12.6 L815.0 13.7 L814.9 15.3 L814.8 17.2 L814.7 19.3 L814.6 21.3 L814.5 23.2 L814.4 24.8 L814.4 26.0Z" fill="#5f8646" stroke="#5f8646" stroke-width="1.4" stroke-linejoin="round"/><path d="M806.4 27.0 L806.4 26.7 L806.4 26.2 L806.3 25.5 L806.3 24.9 L806.3 24.2 L806.3 23.6 L806.3 23.1 L806.3 22.7 L803.9 22.7 L803.9 23.0 L803.9 23.5 L803.8 24.2 L803.8 24.8 L803.7 25.5 L803.7 26.1 L803.6 26.6 L803.6 27.0Z" fill="#5f8646" stroke="#5f8646" stroke-width="1.4" stroke-linejoin="round"/><path d="M791.2 27.3 L790.9 26.8 L790.5 26.1 L790.0 25.3 L789.4 24.3 L788.9 23.4 L788.3 22.6 L787.9 21.8 L787.6 21.3 L785.6 22.5 L785.9 23.0 L786.2 23.7 L786.7 24.6 L787.2 25.6 L787.7 26.5 L788.1 27.4 L788.5 28.2 L788.8 28.7Z" fill="#5f8646" stroke="#5f8646" stroke-width="1.4" stroke-linejoin="round"/><circle cx="726.0" cy="41.5" r="3.03" fill="#5f8646"/><circle cx="737.6" cy="28.5" r="2.19" fill="#5f8646"/><circle cx="764.6" cy="24.2" r="2.56" fill="#5f8646"/><circle cx="776.5" cy="32.8" r="2.56" fill="#5f8646"/><circle cx="792.5" cy="5.1" r="2.56" fill="#5f8646"/><circle cx="768.8" cy="76.7" r="2.09" fill="#5f8646"/><circle cx="822.5" cy="94.2" r="2.56" fill="#5f8646"/><circle cx="820.0" cy="61.7" r="2.79" fill="#5f8646"/><circle cx="822.5" cy="29.5" r="3.03" fill="#5f8646"/><circle cx="816.4" cy="12.6" r="2.09" fill="#5f8646"/><circle cx="805.1" cy="22.7" r="1.86" fill="#5f8646"/><circle cx="786.6" cy="21.9" r="1.86" fill="#5f8646"/><path d="M745.1 158.7 L745.3 157.3 L745.5 155.4 L745.8 153.2 L746.1 150.8 L746.4 148.2 L746.7 145.5 L747.0 142.9 L747.3 140.5 L747.5 138.3 L747.8 136.0 L748.0 133.7 L748.3 131.3 L748.5 129.0 L748.7 126.7 L748.9 124.4 L749.0 122.2 L749.0 120.1 L749.0 118.1 L748.9 116.2 L748.8 114.3 L748.7 112.4 L748.5 110.6 L748.4 108.7 L748.2 106.7 L747.9 104.6 L747.6 102.5 L747.3 100.3 L747.0 98.2 L746.7 96.1 L746.3 93.9 L746.1 91.8 L745.8 89.8 L745.7 87.7 L745.6 85.5 L745.5 83.2 L745.4 80.9 L745.4 78.7 L745.3 76.4 L745.2 74.3 L745.0 72.2 L744.8 70.3 L744.6 68.4 L744.4 66.6 L744.2 64.9 L743.9 63.1 L743.6 61.4 L743.1 59.8 L742.6 58.1 L742.0 56.5 L741.2 55.0 L740.5 53.6 L739.6 52.2 L738.7 50.9 L737.8 49.7 L736.9 48.5 L736.0 47.4 L734.9 46.2 L733.7 45.0 L732.5 43.9 L731.2 42.8 L730.1 41.8 L729.0 41.0 L728.2 40.3 L727.5 39.8 L724.5 43.2 L725.1 43.8 L726.0 44.6 L726.9 45.5 L728.0 46.4 L729.1 47.5 L730.2 48.5 L731.2 49.6 L732.0 50.6 L732.8 51.7 L733.6 52.8 L734.4 53.9 L735.1 55.0 L735.8 56.2 L736.4 57.4 L736.9 58.6 L737.4 59.9 L737.8 61.2 L738.1 62.6 L738.3 64.1 L738.5 65.6 L738.6 67.2 L738.8 68.9 L738.9 70.7 L739.0 72.6 L739.1 74.5 L739.1 76.6 L739.1 78.8 L739.1 81.0 L739.0 83.3 L739.0 85.6 L739.1 87.9 L739.2 90.2 L739.3 92.5 L739.5 94.7 L739.8 97.0 L740.0 99.1 L740.3 101.3 L740.5 103.3 L740.7 105.4 L740.8 107.3 L740.9 109.2 L741.1 111.1 L741.1 112.9 L741.2 114.6 L741.2 116.3 L741.2 118.1 L741.1 119.9 L741.0 121.8 L740.9 123.8 L740.7 125.9 L740.4 128.1 L740.1 130.3 L739.8 132.6 L739.4 134.9 L739.1 137.2 L738.7 139.5 L738.4 141.8 L738.0 144.3 L737.6 146.9 L737.2 149.5 L736.8 151.9 L736.4 154.1 L736.1 156.0 L735.9 157.3Z" fill="#7ba55a"/><path d="M742.3 57.5 L742.1 56.6 L741.7 55.3 L741.3 53.8 L740.9 52.1 L740.4 50.4 L740.0 48.7 L739.6 47.1 L739.3 45.7 L739.1 44.4 L739.0 43.1 L738.9 41.9 L738.8 40.7 L738.7 39.4 L738.7 38.3 L738.7 37.1 L738.6 36.0 L738.6 35.0 L738.7 33.9 L738.7 32.8 L738.8 31.8 L738.9 30.8 L739.0 30.0 L739.0 29.2 L739.1 28.6 L736.1 28.4 L736.1 28.9 L736.0 29.6 L735.8 30.5 L735.7 31.5 L735.6 32.5 L735.5 33.7 L735.4 34.8 L735.4 36.0 L735.3 37.1 L735.3 38.3 L735.3 39.5 L735.3 40.8 L735.3 42.1 L735.4 43.5 L735.5 44.8 L735.7 46.3 L735.9 47.8 L736.2 49.5 L736.6 51.3 L737.0 53.1 L737.4 54.8 L737.8 56.3 L738.1 57.6 L738.3 58.5Z" fill="#7ba55a"/><path d="M746.4 74.0 L746.8 72.9 L747.4 71.4 L748.2 69.6 L749.1 67.6 L749.9 65.4 L750.8 63.2 L751.6 61.1 L752.2 59.0 L752.8 56.9 L753.2 54.8 L753.6 52.7 L753.9 50.6 L754.3 48.6 L754.6 46.8 L754.9 45.1 L755.3 43.7 L755.8 42.5 L756.2 41.5 L756.7 40.7 L757.2 39.9 L757.7 39.1 L758.3 38.2 L759.0 37.2 L759.7 36.1 L760.5 34.7 L761.4 33.3 L762.3 31.7 L763.2 30.1 L764.2 28.6 L765.0 27.2 L765.7 26.0 L766.2 25.2 L763.0 23.2 L762.5 24.1 L761.8 25.2 L760.9 26.6 L759.9 28.1 L759.0 29.7 L758.0 31.2 L757.1 32.7 L756.3 33.9 L755.6 35.0 L755.0 35.8 L754.4 36.7 L753.7 37.5 L753.1 38.5 L752.5 39.6 L751.8 40.8 L751.3 42.3 L750.7 44.0 L750.3 45.9 L749.9 47.8 L749.5 49.8 L749.1 51.9 L748.7 53.9 L748.3 55.8 L747.8 57.6 L747.1 59.5 L746.3 61.5 L745.4 63.6 L744.5 65.6 L743.6 67.6 L742.8 69.4 L742.2 70.9 L741.6 72.0Z" fill="#7ba55a"/><path d="M752.0 59.3 L752.7 59.0 L753.7 58.6 L754.9 58.0 L756.1 57.5 L757.4 56.8 L758.7 56.2 L759.9 55.7 L761.0 55.2 L761.8 54.8 L762.6 54.4 L763.3 54.1 L764.1 53.7 L764.8 53.4 L765.6 52.9 L766.4 52.4 L767.3 51.9 L768.1 51.3 L769.0 50.6 L770.0 49.9 L771.0 49.1 L772.1 48.2 L773.1 47.2 L774.0 46.1 L774.9 44.9 L775.6 43.4 L776.2 41.8 L776.7 40.1 L777.1 38.4 L777.5 36.8 L777.8 35.3 L778.1 34.1 L778.3 33.3 L774.7 32.3 L774.4 33.2 L774.1 34.5 L773.8 35.9 L773.3 37.4 L772.9 39.0 L772.4 40.5 L771.9 41.7 L771.3 42.7 L770.7 43.5 L770.0 44.3 L769.2 45.0 L768.4 45.7 L767.5 46.3 L766.5 47.0 L765.6 47.6 L764.7 48.1 L764.0 48.6 L763.4 49.0 L762.8 49.3 L762.2 49.5 L761.5 49.8 L760.8 50.1 L759.9 50.4 L759.0 50.8 L758.0 51.3 L756.8 51.8 L755.5 52.4 L754.1 52.9 L752.8 53.5 L751.7 53.9 L750.7 54.4 L750.0 54.7Z" fill="#7ba55a"/><path d="M746.4 111.7 L747.2 111.3 L748.3 110.7 L749.6 110.0 L751.0 109.2 L752.5 108.4 L754.0 107.6 L755.5 106.8 L756.9 106.0 L758.1 105.3 L759.3 104.6 L760.6 103.9 L761.8 103.2 L763.0 102.5 L764.3 101.7 L765.7 100.8 L767.1 99.8 L768.6 98.7 L770.2 97.5 L771.9 96.3 L773.6 95.0 L775.3 93.7 L776.9 92.4 L778.3 91.3 L779.6 90.3 L780.6 89.5 L781.5 88.9 L782.4 88.3 L783.4 87.7 L784.3 86.9 L785.3 86.0 L786.3 84.9 L787.1 83.6 L787.7 82.2 L788.2 80.9 L788.6 79.4 L788.9 78.0 L789.2 76.5 L789.4 74.8 L789.6 73.1 L789.8 71.2 L790.0 68.9 L790.1 66.4 L790.3 63.6 L790.4 60.8 L790.5 58.0 L790.7 55.2 L790.8 52.6 L791.0 50.3 L791.2 48.2 L791.4 46.3 L791.6 44.4 L791.9 42.6 L792.1 40.9 L792.4 39.2 L792.6 37.4 L792.7 35.6 L792.8 33.8 L792.9 32.1 L792.9 30.4 L792.9 28.8 L792.9 27.2 L792.9 25.5 L792.9 23.8 L793.0 22.1 L793.1 20.0 L793.3 17.7 L793.5 15.3 L793.7 12.9 L793.9 10.5 L794.1 8.4 L794.2 6.6 L794.3 5.3 L790.7 4.9 L790.5 6.2 L790.3 8.0 L790.0 10.1 L789.7 12.4 L789.4 14.9 L789.1 17.3 L788.8 19.7 L788.6 21.7 L788.5 23.6 L788.4 25.4 L788.3 27.1 L788.3 28.8 L788.2 30.4 L788.1 31.9 L788.0 33.5 L787.9 35.2 L787.7 36.8 L787.4 38.5 L787.2 40.1 L786.8 41.8 L786.5 43.6 L786.2 45.5 L785.9 47.5 L785.6 49.7 L785.4 52.1 L785.1 54.8 L784.9 57.6 L784.6 60.4 L784.4 63.2 L784.2 65.9 L783.9 68.3 L783.6 70.4 L783.4 72.3 L783.1 74.0 L782.9 75.5 L782.6 76.7 L782.4 77.8 L782.1 78.8 L781.7 79.6 L781.3 80.4 L780.9 81.0 L780.6 81.4 L780.2 81.7 L779.6 82.1 L778.8 82.5 L777.9 83.1 L776.7 83.8 L775.4 84.7 L774.1 85.7 L772.6 86.8 L771.0 88.0 L769.3 89.2 L767.6 90.4 L765.9 91.6 L764.4 92.6 L762.9 93.6 L761.6 94.4 L760.4 95.1 L759.2 95.8 L758.0 96.5 L756.8 97.1 L755.6 97.7 L754.4 98.4 L753.1 99.0 L751.7 99.7 L750.3 100.5 L748.8 101.2 L747.2 102.0 L745.8 102.7 L744.5 103.3 L743.4 103.9 L742.6 104.3Z" fill="#7ba55a"/><path d="M769.9 89.1 L769.9 88.6 L769.9 87.8 L769.9 86.9 L770.0 86.0 L770.0 84.9 L770.0 83.9 L770.1 83.0 L770.1 82.1 L770.1 81.3 L770.1 80.5 L770.1 79.7 L770.2 79.0 L770.2 78.3 L770.2 77.7 L770.2 77.2 L770.2 76.8 L767.4 76.6 L767.4 77.0 L767.3 77.5 L767.3 78.1 L767.2 78.8 L767.1 79.6 L767.1 80.3 L767.0 81.1 L766.9 81.9 L766.8 82.7 L766.7 83.7 L766.6 84.7 L766.5 85.7 L766.4 86.7 L766.3 87.6 L766.2 88.3 L766.1 88.9Z" fill="#7ba55a"/><path d="M783.2 85.7 L784.0 85.8 L785.1 86.1 L786.4 86.3 L787.8 86.7 L789.3 87.0 L790.8 87.3 L792.3 87.6 L793.5 87.8 L794.6 88.1 L795.7 88.3 L796.8 88.5 L797.8 88.8 L798.9 89.0 L800.0 89.2 L801.2 89.3 L802.5 89.3 L803.8 89.2 L805.1 89.0 L806.2 88.7 L807.3 88.4 L808.2 88.1 L809.0 87.9 L809.8 87.8 L810.5 87.8 L811.3 88.0 L812.3 88.2 L813.3 88.6 L814.4 89.0 L815.4 89.4 L816.4 89.9 L817.3 90.4 L817.9 90.8 L818.4 91.2 L818.9 91.7 L819.3 92.2 L819.7 92.9 L820.0 93.5 L820.3 94.1 L820.6 94.7 L820.9 95.1 L824.1 93.3 L824.0 93.0 L823.7 92.5 L823.5 91.8 L823.1 91.0 L822.6 90.2 L822.0 89.3 L821.3 88.4 L820.5 87.6 L819.5 86.9 L818.5 86.2 L817.4 85.6 L816.2 85.0 L815.0 84.4 L813.7 83.9 L812.4 83.5 L811.1 83.2 L809.7 83.0 L808.4 83.1 L807.2 83.3 L806.0 83.6 L805.0 83.8 L804.1 84.0 L803.3 84.1 L802.5 84.1 L801.7 84.0 L800.9 83.8 L800.0 83.6 L799.1 83.4 L798.2 83.1 L797.1 82.8 L796.0 82.5 L794.9 82.2 L793.6 81.8 L792.3 81.5 L790.8 81.0 L789.3 80.6 L787.9 80.2 L786.7 79.9 L785.6 79.6 L784.8 79.3Z" fill="#7ba55a"/><path d="M810.4 85.9 L810.8 84.7 L811.3 83.1 L811.9 81.3 L812.5 79.3 L813.2 77.2 L813.9 75.2 L814.7 73.4 L815.3 71.8 L816.0 70.5 L816.9 69.2 L817.8 67.9 L818.7 66.7 L819.6 65.6 L820.4 64.6 L821.1 63.7 L821.6 63.0 L818.4 60.4 L817.8 61.0 L817.1 61.8 L816.3 62.8 L815.3 64.0 L814.2 65.3 L813.2 66.7 L812.2 68.2 L811.3 69.8 L810.4 71.5 L809.6 73.5 L808.7 75.5 L807.9 77.7 L807.2 79.7 L806.5 81.5 L806.0 83.0 L805.6 84.1Z" fill="#7ba55a"/><path d="M792.2 39.5 L793.0 38.9 L794.1 38.2 L795.3 37.3 L796.7 36.3 L798.1 35.3 L799.6 34.3 L800.9 33.5 L802.2 32.8 L803.3 32.2 L804.5 31.7 L805.6 31.2 L806.8 30.8 L808.0 30.4 L809.2 30.0 L810.3 29.7 L811.5 29.4 L812.8 29.2 L814.1 28.9 L815.5 28.7 L816.8 28.6 L818.1 28.4 L819.2 28.4 L820.1 28.4 L820.5 28.4 L820.4 28.4 L820.2 28.1 L820.1 28.0 L820.1 28.0 L820.1 28.3 L820.1 28.8 L820.1 29.4 L820.2 29.9 L824.8 29.1 L824.8 29.1 L824.8 28.8 L824.8 28.2 L824.8 27.5 L824.6 26.5 L824.0 25.3 L823.0 24.3 L821.7 23.8 L820.5 23.6 L819.2 23.5 L817.8 23.5 L816.4 23.6 L814.9 23.7 L813.4 23.9 L811.9 24.1 L810.5 24.4 L809.1 24.6 L807.8 24.9 L806.5 25.3 L805.1 25.7 L803.8 26.1 L802.4 26.6 L801.0 27.2 L799.6 27.8 L798.2 28.6 L796.6 29.5 L795.0 30.4 L793.4 31.4 L792.0 32.4 L790.7 33.3 L789.6 34.0 L788.8 34.5Z" fill="#7ba55a"/><path d="M817.6 26.0 L817.6 24.9 L817.7 23.3 L817.7 21.4 L817.7 19.3 L817.7 17.3 L817.8 15.4 L817.8 13.8 L817.8 12.6 L815.0 12.6 L815.0 13.7 L814.9 15.3 L814.8 17.2 L814.7 19.3 L814.6 21.3 L814.5 23.2 L814.4 24.8 L814.4 26.0Z" fill="#7ba55a"/><path d="M806.4 27.0 L806.4 26.7 L806.4 26.2 L806.3 25.5 L806.3 24.9 L806.3 24.2 L806.3 23.6 L806.3 23.1 L806.3 22.7 L803.9 22.7 L803.9 23.0 L803.9 23.5 L803.8 24.2 L803.8 24.8 L803.7 25.5 L803.7 26.1 L803.6 26.6 L803.6 27.0Z" fill="#7ba55a"/><path d="M791.2 27.3 L790.9 26.8 L790.5 26.1 L790.0 25.3 L789.4 24.3 L788.9 23.4 L788.3 22.6 L787.9 21.8 L787.6 21.3 L785.6 22.5 L785.9 23.0 L786.2 23.7 L786.7 24.6 L787.2 25.6 L787.7 26.5 L788.1 27.4 L788.5 28.2 L788.8 28.7Z" fill="#7ba55a"/><circle cx="726.0" cy="41.5" r="2.33" fill="#7ba55a"/><circle cx="737.6" cy="28.5" r="1.49" fill="#7ba55a"/><circle cx="764.6" cy="24.2" r="1.86" fill="#7ba55a"/><circle cx="776.5" cy="32.8" r="1.86" fill="#7ba55a"/><circle cx="792.5" cy="5.1" r="1.86" fill="#7ba55a"/><circle cx="768.8" cy="76.7" r="1.40" fill="#7ba55a"/><circle cx="822.5" cy="94.2" r="1.86" fill="#7ba55a"/><circle cx="820.0" cy="61.7" r="2.09" fill="#7ba55a"/><circle cx="822.5" cy="29.5" r="2.33" fill="#7ba55a"/><circle cx="816.4" cy="12.6" r="1.40" fill="#7ba55a"/><circle cx="805.1" cy="22.7" r="1.16" fill="#7ba55a"/><circle cx="786.6" cy="21.9" r="1.16" fill="#7ba55a"/></g><g id="neuron1"><path d="M1010.9 74.2 L1010.4 73.2 L1009.6 71.9 L1008.7 70.2 L1007.7 68.4 L1006.7 66.6 L1005.6 64.7 L1004.6 63.0 L1003.6 61.4 L1002.6 60.1 L1001.6 58.9 L1000.6 57.8 L999.7 56.7 L998.7 55.7 L997.8 54.7 L997.0 53.7 L996.2 52.6 L995.4 51.4 L994.5 50.3 L993.7 49.0 L993.0 47.8 L992.2 46.6 L991.6 45.5 L991.1 44.3 L990.8 43.3 L990.6 42.2 L990.5 41.2 L990.5 40.1 L990.6 39.1 L990.7 38.0 L991.0 36.9 L991.2 35.9 L991.5 34.8 L991.9 33.7 L992.4 32.7 L992.9 31.7 L993.6 30.6 L994.2 29.5 L994.8 28.4 L995.4 27.1 L995.9 25.8 L996.3 24.4 L996.6 22.7 L996.9 21.0 L997.2 19.3 L997.4 17.6 L997.6 16.2 L997.8 14.9 L997.9 14.0 L996.9 13.8 L996.7 14.7 L996.5 16.0 L996.2 17.5 L996.0 19.1 L995.6 20.8 L995.3 22.5 L994.9 24.0 L994.5 25.4 L994.0 26.5 L993.5 27.7 L992.8 28.7 L992.2 29.8 L991.5 30.9 L990.9 31.9 L990.3 33.1 L989.9 34.2 L989.5 35.4 L989.2 36.5 L988.9 37.6 L988.7 38.8 L988.5 40.0 L988.5 41.2 L988.6 42.5 L988.8 43.7 L989.2 45.0 L989.7 46.4 L990.3 47.7 L991.0 49.0 L991.8 50.3 L992.6 51.5 L993.4 52.8 L994.2 54.0 L995.0 55.2 L995.9 56.3 L996.8 57.4 L997.7 58.4 L998.6 59.5 L999.5 60.6 L1000.4 61.7 L1001.2 63.0 L1002.1 64.4 L1003.1 66.1 L1004.1 68.0 L1005.1 69.9 L1006.0 71.7 L1006.8 73.3 L1007.5 74.7 L1008.1 75.8Z" fill="#8e9c82"/><path d="M996.4 52.4 L996.8 51.7 L997.2 50.6 L997.7 49.4 L998.3 48.0 L999.0 46.7 L999.7 45.4 L1000.5 44.2 L1001.2 43.2 L1002.1 42.4 L1003.1 41.8 L1004.2 41.1 L1005.4 40.6 L1006.6 40.0 L1007.8 39.3 L1009.0 38.6 L1010.0 37.8 L1010.9 36.9 L1011.7 36.0 L1012.5 35.0 L1013.3 34.0 L1013.9 32.9 L1014.5 31.8 L1015.1 30.7 L1015.5 29.4 L1015.9 28.0 L1016.2 26.4 L1016.4 24.6 L1016.5 22.9 L1016.6 21.2 L1016.6 19.7 L1016.7 18.5 L1016.7 17.5 L1015.7 17.5 L1015.6 18.4 L1015.5 19.7 L1015.4 21.2 L1015.3 22.8 L1015.1 24.5 L1014.9 26.2 L1014.6 27.7 L1014.3 29.0 L1013.8 30.1 L1013.3 31.2 L1012.7 32.2 L1012.1 33.2 L1011.4 34.1 L1010.6 35.0 L1009.8 35.8 L1009.0 36.6 L1008.1 37.3 L1007.0 37.9 L1005.9 38.5 L1004.7 39.1 L1003.4 39.7 L1002.2 40.3 L1001.0 41.1 L1000.0 42.0 L999.0 43.1 L998.2 44.4 L997.4 45.8 L996.6 47.2 L996.0 48.6 L995.4 49.8 L995.0 50.8 L994.6 51.6Z" fill="#8e9c82"/><path d="M1010.9 75.4 L1011.1 74.5 L1011.5 73.2 L1011.9 71.7 L1012.4 70.0 L1012.8 68.3 L1013.3 66.6 L1013.8 64.9 L1014.2 63.5 L1014.7 62.2 L1015.1 60.9 L1015.6 59.6 L1016.0 58.4 L1016.5 57.1 L1016.9 55.9 L1017.3 54.8 L1017.7 53.6 L1018.0 52.6 L1018.3 51.6 L1018.6 50.7 L1018.9 49.7 L1019.1 48.7 L1019.3 47.7 L1019.4 46.5 L1019.3 45.2 L1019.2 43.6 L1018.8 41.8 L1018.4 39.8 L1018.0 37.8 L1017.5 35.9 L1017.0 34.2 L1016.6 32.7 L1016.4 31.7 L1015.2 31.9 L1015.4 33.0 L1015.8 34.5 L1016.2 36.2 L1016.6 38.2 L1017.0 40.1 L1017.3 42.0 L1017.5 43.8 L1017.7 45.2 L1017.6 46.4 L1017.5 47.4 L1017.3 48.4 L1017.1 49.2 L1016.8 50.1 L1016.5 51.0 L1016.1 51.9 L1015.7 53.0 L1015.4 54.1 L1014.9 55.2 L1014.5 56.4 L1014.0 57.6 L1013.5 58.8 L1013.0 60.1 L1012.5 61.4 L1012.0 62.7 L1011.5 64.2 L1010.9 65.8 L1010.3 67.6 L1009.8 69.3 L1009.3 70.9 L1008.8 72.4 L1008.4 73.7 L1008.1 74.6Z" fill="#8e9c82"/><path d="M1019.1 45.7 L1019.5 45.2 L1020.0 44.6 L1020.5 43.8 L1021.2 43.0 L1021.8 42.1 L1022.4 41.2 L1023.0 40.2 L1023.5 39.3 L1023.9 38.3 L1024.3 37.3 L1024.6 36.2 L1024.9 35.2 L1025.2 34.2 L1025.4 33.3 L1025.6 32.5 L1025.7 32.0 L1024.7 31.6 L1024.5 32.2 L1024.3 33.0 L1024.0 33.9 L1023.7 34.8 L1023.4 35.9 L1023.1 36.9 L1022.7 37.8 L1022.3 38.7 L1021.8 39.5 L1021.3 40.4 L1020.6 41.2 L1020.0 42.1 L1019.3 42.9 L1018.7 43.6 L1018.2 44.2 L1017.9 44.7Z" fill="#8e9c82"/><path d="M1010.8 87.2 L1011.2 86.9 L1011.8 86.5 L1012.6 86.1 L1013.4 85.5 L1014.3 84.9 L1015.1 84.3 L1016.0 83.7 L1016.8 83.1 L1017.5 82.5 L1018.3 82.0 L1019.0 81.5 L1019.8 80.9 L1020.5 80.2 L1021.3 79.4 L1022.2 78.5 L1023.0 77.3 L1023.9 76.0 L1024.8 74.5 L1025.8 72.8 L1026.7 71.1 L1027.7 69.3 L1028.6 67.6 L1029.4 66.0 L1030.2 64.5 L1030.9 63.2 L1031.5 62.0 L1032.0 60.8 L1032.6 59.7 L1033.1 58.6 L1033.6 57.6 L1034.0 56.6 L1034.6 55.6 L1035.1 54.7 L1035.7 53.8 L1036.3 53.0 L1036.9 52.1 L1037.5 51.2 L1038.1 50.3 L1038.5 49.3 L1038.9 48.2 L1039.2 47.1 L1039.5 46.1 L1039.6 45.0 L1039.7 44.0 L1039.7 42.8 L1039.8 41.5 L1039.8 39.9 L1039.8 38.1 L1039.8 35.8 L1039.7 33.0 L1039.6 29.9 L1039.5 26.7 L1039.4 23.6 L1039.3 20.7 L1039.2 18.3 L1039.1 16.6 L1038.1 16.6 L1038.1 18.4 L1038.1 20.8 L1038.2 23.6 L1038.2 26.8 L1038.2 30.0 L1038.3 33.1 L1038.3 35.8 L1038.2 38.1 L1038.2 39.9 L1038.1 41.4 L1038.1 42.7 L1038.0 43.8 L1037.9 44.8 L1037.7 45.7 L1037.5 46.7 L1037.3 47.6 L1036.9 48.5 L1036.4 49.4 L1035.9 50.2 L1035.4 51.0 L1034.7 51.8 L1034.1 52.7 L1033.5 53.6 L1032.8 54.6 L1032.3 55.6 L1031.7 56.7 L1031.2 57.7 L1030.7 58.8 L1030.1 59.9 L1029.6 61.0 L1028.9 62.2 L1028.2 63.5 L1027.4 64.9 L1026.6 66.5 L1025.6 68.2 L1024.7 69.9 L1023.7 71.6 L1022.7 73.2 L1021.8 74.7 L1021.0 75.9 L1020.2 76.8 L1019.5 77.6 L1018.8 78.2 L1018.1 78.8 L1017.4 79.3 L1016.7 79.8 L1015.9 80.4 L1015.2 80.9 L1014.4 81.5 L1013.6 82.1 L1012.7 82.6 L1011.9 83.2 L1011.1 83.7 L1010.3 84.1 L1009.7 84.5 L1009.2 84.8Z" fill="#8e9c82"/><path d="M1039.3 37.8 L1038.7 37.5 L1037.9 37.2 L1037.0 36.8 L1036.0 36.4 L1034.9 35.9 L1034.0 35.4 L1033.1 34.7 L1032.4 34.1 L1031.9 33.3 L1031.3 32.2 L1030.8 30.9 L1030.4 29.6 L1030.0 28.4 L1029.7 27.2 L1029.4 26.2 L1029.2 25.5 L1028.2 25.7 L1028.4 26.5 L1028.7 27.4 L1029.0 28.6 L1029.3 30.0 L1029.7 31.3 L1030.2 32.7 L1030.7 33.9 L1031.4 34.9 L1032.2 35.8 L1033.2 36.5 L1034.2 37.2 L1035.3 37.7 L1036.4 38.2 L1037.3 38.6 L1038.1 39.0 L1038.7 39.2Z" fill="#8e9c82"/><path d="M1038.5 48.6 L1039.2 48.2 L1040.3 47.6 L1041.5 46.8 L1042.9 46.0 L1044.3 45.2 L1045.5 44.5 L1046.6 43.9 L1047.3 43.4 L1046.9 42.6 L1046.1 43.0 L1045.0 43.5 L1043.7 44.2 L1042.3 44.9 L1040.9 45.6 L1039.6 46.2 L1038.5 46.8 L1037.7 47.2Z" fill="#8e9c82"/><path d="M1030.4 66.7 L1031.4 66.4 L1032.6 65.9 L1034.1 65.4 L1035.7 64.8 L1037.5 64.1 L1039.3 63.5 L1041.1 62.8 L1042.9 62.1 L1044.7 61.4 L1046.8 60.6 L1049.0 59.8 L1051.2 59.0 L1053.3 58.2 L1055.2 57.5 L1056.8 56.9 L1058.0 56.5 L1057.6 55.5 L1056.4 55.9 L1054.8 56.5 L1052.9 57.1 L1050.8 57.8 L1048.6 58.6 L1046.3 59.3 L1044.2 60.0 L1042.3 60.7 L1040.6 61.3 L1038.7 61.9 L1036.9 62.5 L1035.1 63.1 L1033.4 63.6 L1032.0 64.1 L1030.7 64.5 L1029.8 64.9Z" fill="#8e9c82"/><path d="M985.4 159.9 L985.4 159.0 L985.3 157.7 L985.3 156.1 L985.2 154.4 L985.1 152.6 L985.0 150.9 L985.0 149.3 L984.9 147.8 L984.8 146.6 L984.7 145.4 L984.6 144.3 L984.4 143.4 L984.3 142.5 L984.3 141.7 L984.2 141.0 L984.3 140.2 L984.3 139.3 L984.3 138.3 L984.4 137.5 L984.4 136.8 L984.5 136.3 L984.7 135.8 L984.9 135.3 L985.1 134.9 L985.4 134.5 L986.0 134.0 L986.9 133.4 L987.9 132.8 L989.0 132.1 L990.2 131.4 L991.4 130.6 L992.4 129.7 L993.2 129.0 L994.1 128.3 L995.0 127.5 L996.0 126.7 L996.9 125.7 L997.8 124.5 L998.5 123.0 L998.8 121.3 L998.8 119.6 L998.6 117.8 L998.1 116.1 L997.5 114.4 L996.9 112.8 L996.2 111.2 L995.6 109.7 L995.0 108.4 L994.3 107.1 L993.5 105.8 L992.7 104.7 L991.9 103.8 L991.2 103.0 L990.8 102.3 L990.6 101.9 L990.5 101.7 L990.5 101.5 L990.5 101.3 L990.6 101.0 L990.8 100.7 L991.2 100.3 L991.6 99.8 L992.2 99.3 L992.9 98.8 L993.7 98.4 L994.7 97.9 L995.9 97.4 L997.3 96.9 L998.8 96.4 L1000.2 95.8 L1001.7 95.2 L1003.0 94.6 L1004.1 94.0 L1005.2 93.4 L1006.4 92.7 L1007.5 92.1 L1008.5 91.3 L1009.5 90.5 L1010.5 89.6 L1011.3 88.5 L1011.8 87.2 L1012.2 86.0 L1012.4 84.7 L1012.5 83.4 L1012.5 82.2 L1012.5 81.0 L1012.4 80.0 L1012.4 79.0 L1012.4 77.9 L1012.2 76.8 L1012.1 75.7 L1011.9 74.7 L1011.7 73.7 L1011.5 72.9 L1011.4 72.2 L1011.3 71.7 L1007.7 72.3 L1007.8 72.9 L1007.9 73.6 L1008.1 74.4 L1008.2 75.3 L1008.4 76.2 L1008.5 77.2 L1008.6 78.1 L1008.6 79.0 L1008.6 80.0 L1008.6 81.1 L1008.6 82.2 L1008.5 83.2 L1008.4 84.2 L1008.3 85.0 L1008.1 85.7 L1007.7 86.3 L1007.3 86.8 L1006.8 87.4 L1006.1 87.9 L1005.2 88.5 L1004.3 89.0 L1003.2 89.5 L1002.1 90.1 L1001.0 90.6 L999.9 91.1 L998.7 91.6 L997.3 92.1 L995.8 92.5 L994.3 93.0 L992.9 93.5 L991.5 94.1 L990.3 94.8 L989.3 95.5 L988.4 96.1 L987.6 96.9 L986.9 97.7 L986.3 98.7 L985.8 99.8 L985.5 101.0 L985.5 102.3 L985.8 103.7 L986.4 104.9 L987.1 106.0 L987.8 106.9 L988.5 107.9 L989.2 108.8 L989.7 109.7 L990.2 110.6 L990.7 111.8 L991.2 113.2 L991.8 114.7 L992.3 116.2 L992.8 117.6 L993.1 118.9 L993.2 120.0 L993.2 120.7 L993.1 121.1 L992.8 121.5 L992.5 121.9 L992.0 122.4 L991.3 123.0 L990.4 123.7 L989.5 124.4 L988.6 125.1 L987.8 125.7 L986.9 126.3 L985.9 126.9 L984.7 127.5 L983.5 128.2 L982.3 129.0 L981.2 129.9 L980.1 131.1 L979.3 132.3 L978.7 133.5 L978.3 134.7 L978.1 135.9 L978.0 136.9 L977.9 137.9 L977.8 138.9 L977.7 139.8 L977.7 140.9 L977.7 142.0 L977.7 143.0 L977.8 144.0 L977.9 145.0 L978.0 146.0 L978.1 147.0 L978.1 148.2 L978.1 149.5 L978.1 151.1 L978.2 152.8 L978.2 154.6 L978.2 156.3 L978.2 157.8 L978.2 159.1 L978.2 160.1Z" fill="#7a9f6b" stroke="#7a9f6b" stroke-width="1.6" stroke-linejoin="round"/><path d="M979.5 150C978.5 150.8 978.5 153.3 977.8 155C977 156.7 976.2 157.7 975 160C973.8 162.3 971.4 165.3 970.3 168.8C969.2 172.3 968.5 177.7 968.2 181.1C967.9 184.5 967.8 186.8 968.4 189.3C969 191.8 970.4 193.9 972 196C973.6 198.1 975 200.2 978 202C981 203.8 985.7 206 990 207.1C994.3 208.2 1000.2 207.7 1003.8 208.8C1007.4 210 1009.2 211.9 1011.5 214C1013.8 216.1 1015.3 219.2 1017.5 221.5C1019.7 223.8 1021.9 225.8 1024.8 228C1027.7 230.2 1032.5 234.1 1035 234.8C1037.5 235.6 1039.9 233.9 1039.5 232.5C1039.1 231.1 1035.3 228.8 1032.5 226.3C1029.7 223.8 1025.2 220.4 1022.5 217.5C1019.8 214.6 1017.5 211.9 1016 209C1014.5 206.1 1013.7 204 1013.4 200.3C1013.1 196.6 1014.2 190.3 1014 186.6C1013.8 182.9 1012.8 180.3 1012 178C1011.2 175.7 1010.5 174.7 1009.2 172.9C1007.9 171.1 1005.6 168.8 1004 167C1002.4 165.2 1001.7 163.8 999.7 162C997.7 160.2 994.2 157.7 992 156C989.8 154.3 987.8 153 986.5 152C985.2 151 985.2 150.3 984 150C982.8 149.7 980.5 149.2 979.5 150Z" fill="#789c69" stroke="#789c69" stroke-width="2.2"/><path d="M985.4 159.9 L985.4 159.0 L985.3 157.7 L985.3 156.1 L985.2 154.4 L985.1 152.6 L985.0 150.9 L985.0 149.3 L984.9 147.8 L984.8 146.6 L984.7 145.4 L984.6 144.3 L984.4 143.4 L984.3 142.5 L984.3 141.7 L984.2 141.0 L984.3 140.2 L984.3 139.3 L984.3 138.3 L984.4 137.5 L984.4 136.8 L984.5 136.3 L984.7 135.8 L984.9 135.3 L985.1 134.9 L985.4 134.5 L986.0 134.0 L986.9 133.4 L987.9 132.8 L989.0 132.1 L990.2 131.4 L991.4 130.6 L992.4 129.7 L993.2 129.0 L994.1 128.3 L995.0 127.5 L996.0 126.7 L996.9 125.7 L997.8 124.5 L998.5 123.0 L998.8 121.3 L998.8 119.6 L998.6 117.8 L998.1 116.1 L997.5 114.4 L996.9 112.8 L996.2 111.2 L995.6 109.7 L995.0 108.4 L994.3 107.1 L993.5 105.8 L992.7 104.7 L991.9 103.8 L991.2 103.0 L990.8 102.3 L990.6 101.9 L990.5 101.7 L990.5 101.5 L990.5 101.3 L990.6 101.0 L990.8 100.7 L991.2 100.3 L991.6 99.8 L992.2 99.3 L992.9 98.8 L993.7 98.4 L994.7 97.9 L995.9 97.4 L997.3 96.9 L998.8 96.4 L1000.2 95.8 L1001.7 95.2 L1003.0 94.6 L1004.1 94.0 L1005.2 93.4 L1006.4 92.7 L1007.5 92.1 L1008.5 91.3 L1009.5 90.5 L1010.5 89.6 L1011.3 88.5 L1011.8 87.2 L1012.2 86.0 L1012.4 84.7 L1012.5 83.4 L1012.5 82.2 L1012.5 81.0 L1012.4 80.0 L1012.4 79.0 L1012.4 77.9 L1012.2 76.8 L1012.1 75.7 L1011.9 74.7 L1011.7 73.7 L1011.5 72.9 L1011.4 72.2 L1011.3 71.7 L1007.7 72.3 L1007.8 72.9 L1007.9 73.6 L1008.1 74.4 L1008.2 75.3 L1008.4 76.2 L1008.5 77.2 L1008.6 78.1 L1008.6 79.0 L1008.6 80.0 L1008.6 81.1 L1008.6 82.2 L1008.5 83.2 L1008.4 84.2 L1008.3 85.0 L1008.1 85.7 L1007.7 86.3 L1007.3 86.8 L1006.8 87.4 L1006.1 87.9 L1005.2 88.5 L1004.3 89.0 L1003.2 89.5 L1002.1 90.1 L1001.0 90.6 L999.9 91.1 L998.7 91.6 L997.3 92.1 L995.8 92.5 L994.3 93.0 L992.9 93.5 L991.5 94.1 L990.3 94.8 L989.3 95.5 L988.4 96.1 L987.6 96.9 L986.9 97.7 L986.3 98.7 L985.8 99.8 L985.5 101.0 L985.5 102.3 L985.8 103.7 L986.4 104.9 L987.1 106.0 L987.8 106.9 L988.5 107.9 L989.2 108.8 L989.7 109.7 L990.2 110.6 L990.7 111.8 L991.2 113.2 L991.8 114.7 L992.3 116.2 L992.8 117.6 L993.1 118.9 L993.2 120.0 L993.2 120.7 L993.1 121.1 L992.8 121.5 L992.5 121.9 L992.0 122.4 L991.3 123.0 L990.4 123.7 L989.5 124.4 L988.6 125.1 L987.8 125.7 L986.9 126.3 L985.9 126.9 L984.7 127.5 L983.5 128.2 L982.3 129.0 L981.2 129.9 L980.1 131.1 L979.3 132.3 L978.7 133.5 L978.3 134.7 L978.1 135.9 L978.0 136.9 L977.9 137.9 L977.8 138.9 L977.7 139.8 L977.7 140.9 L977.7 142.0 L977.7 143.0 L977.8 144.0 L977.9 145.0 L978.0 146.0 L978.1 147.0 L978.1 148.2 L978.1 149.5 L978.1 151.1 L978.2 152.8 L978.2 154.6 L978.2 156.3 L978.2 157.8 L978.2 159.1 L978.2 160.1Z" fill="#8fbb80"/><path d="M979.5 150C978.5 150.8 978.5 153.3 977.8 155C977 156.7 976.2 157.7 975 160C973.8 162.3 971.4 165.3 970.3 168.8C969.2 172.3 968.5 177.7 968.2 181.1C967.9 184.5 967.8 186.8 968.4 189.3C969 191.8 970.4 193.9 972 196C973.6 198.1 975 200.2 978 202C981 203.8 985.7 206 990 207.1C994.3 208.2 1000.2 207.7 1003.8 208.8C1007.4 210 1009.2 211.9 1011.5 214C1013.8 216.1 1015.3 219.2 1017.5 221.5C1019.7 223.8 1021.9 225.8 1024.8 228C1027.7 230.2 1032.5 234.1 1035 234.8C1037.5 235.6 1039.9 233.9 1039.5 232.5C1039.1 231.1 1035.3 228.8 1032.5 226.3C1029.7 223.8 1025.2 220.4 1022.5 217.5C1019.8 214.6 1017.5 211.9 1016 209C1014.5 206.1 1013.7 204 1013.4 200.3C1013.1 196.6 1014.2 190.3 1014 186.6C1013.8 182.9 1012.8 180.3 1012 178C1011.2 175.7 1010.5 174.7 1009.2 172.9C1007.9 171.1 1005.6 168.8 1004 167C1002.4 165.2 1001.7 163.8 999.7 162C997.7 160.2 994.2 157.7 992 156C989.8 154.3 987.8 153 986.5 152C985.2 151 985.2 150.3 984 150C982.8 149.7 980.5 149.2 979.5 150Z" fill="#8fbb80"/><ellipse cx="991.5" cy="184.6" rx="18" ry="17.8" fill="#4b5faa" stroke="#98c2aa" stroke-width="2.2"/></g></defs>
<use href="#brain"/>
<use href="#brain" transform="translate(0,320)"/>
<use href="#brain" transform="translate(0,635)"/><use href="#tree1"/><rect x="684.4" y="156.7" width="148.6" height="40" fill="#87a764"/><rect x="684.4" y="156.7" width="148.6" height="2.5" fill="#76975a"/><rect x="684.4" y="184.7" width="148.6" height="12" fill="#749550"/><path d="M829.5 156.7 Q826.5 176.7 829.5 196.7 L833 196.7 L833 156.7 Z" fill="#6b8f4a"/><path d="M762.0 484.0 L762.0 482.1 L762.0 479.6 L762.0 476.6 L762.0 473.3 L762.0 469.8 L762.0 466.3 L761.9 463.0 L761.9 460.0 L761.8 457.2 L761.7 454.6 L761.6 452.1 L761.5 449.6 L761.4 447.2 L761.4 444.8 L761.3 442.5 L761.3 440.0 L761.4 437.6 L761.4 435.2 L761.6 432.7 L761.7 430.2 L761.9 427.7 L762.0 425.2 L762.1 422.7 L762.2 420.1 L762.3 417.6 L762.4 414.9 L762.6 412.2 L762.7 409.5 L762.7 406.8 L762.8 404.3 L762.7 401.9 L762.6 399.8 L762.5 397.9 L762.2 396.3 L761.9 394.8 L761.6 393.5 L761.2 392.3 L760.8 391.2 L760.4 390.1 L759.9 388.9 L759.4 387.6 L758.8 386.2 L758.2 384.9 L757.6 383.5 L756.9 382.1 L756.1 380.8 L755.3 379.5 L754.5 378.2 L753.5 376.9 L752.3 375.7 L751.2 374.5 L750.0 373.4 L748.9 372.4 L747.9 371.5 L747.1 370.8 L746.6 370.3 L742.4 374.7 L743.1 375.3 L743.9 376.0 L744.8 376.9 L745.9 377.8 L746.9 378.8 L747.9 379.9 L748.8 380.9 L749.5 381.8 L750.2 382.8 L750.8 383.9 L751.4 385.0 L752.0 386.2 L752.6 387.4 L753.1 388.6 L753.6 389.9 L754.1 391.1 L754.5 392.3 L755.0 393.4 L755.3 394.3 L755.6 395.2 L755.8 396.2 L756.0 397.3 L756.2 398.6 L756.4 400.2 L756.4 402.1 L756.4 404.3 L756.4 406.7 L756.3 409.3 L756.2 411.9 L756.0 414.6 L755.9 417.3 L755.8 419.9 L755.7 422.3 L755.5 424.8 L755.3 427.3 L755.2 429.8 L755.0 432.3 L754.9 434.8 L754.8 437.4 L754.7 440.0 L754.7 442.5 L754.7 445.0 L754.8 447.4 L754.8 449.9 L754.9 452.3 L755.0 454.8 L755.1 457.4 L755.1 460.0 L755.1 463.0 L755.1 466.3 L755.1 469.8 L755.1 473.2 L755.1 476.6 L755.0 479.6 L755.0 482.1 L755.0 484.0Z" fill="#5f8646" stroke="#5f8646" stroke-width="1.4" stroke-linejoin="round"/><path d="M757.3 390.0 L757.3 388.6 L757.3 386.7 L757.2 384.4 L757.1 381.9 L757.1 379.2 L757.0 376.6 L757.0 374.2 L757.0 372.0 L757.0 370.0 L757.1 368.0 L757.1 365.9 L757.2 364.0 L757.2 362.1 L757.3 360.5 L757.3 359.1 L757.4 358.1 L753.8 357.9 L753.8 359.0 L753.7 360.3 L753.6 362.0 L753.4 363.8 L753.3 365.8 L753.2 367.8 L753.1 369.9 L753.0 372.0 L752.9 374.2 L752.9 376.6 L752.8 379.2 L752.8 381.9 L752.7 384.4 L752.7 386.7 L752.7 388.6 L752.7 390.0Z" fill="#5f8646" stroke="#5f8646" stroke-width="1.4" stroke-linejoin="round"/><circle cx="744.5" cy="372.5" r="3.72" fill="#5f8646"/><circle cx="755.6" cy="358.0" r="2.47" fill="#5f8646"/><path d="M762.0 484.0 L762.0 482.1 L762.0 479.6 L762.0 476.6 L762.0 473.3 L762.0 469.8 L762.0 466.3 L761.9 463.0 L761.9 460.0 L761.8 457.2 L761.7 454.6 L761.6 452.1 L761.5 449.6 L761.4 447.2 L761.4 444.8 L761.3 442.5 L761.3 440.0 L761.4 437.6 L761.4 435.2 L761.6 432.7 L761.7 430.2 L761.9 427.7 L762.0 425.2 L762.1 422.7 L762.2 420.1 L762.3 417.6 L762.4 414.9 L762.6 412.2 L762.7 409.5 L762.7 406.8 L762.8 404.3 L762.7 401.9 L762.6 399.8 L762.5 397.9 L762.2 396.3 L761.9 394.8 L761.6 393.5 L761.2 392.3 L760.8 391.2 L760.4 390.1 L759.9 388.9 L759.4 387.6 L758.8 386.2 L758.2 384.9 L757.6 383.5 L756.9 382.1 L756.1 380.8 L755.3 379.5 L754.5 378.2 L753.5 376.9 L752.3 375.7 L751.2 374.5 L750.0 373.4 L748.9 372.4 L747.9 371.5 L747.1 370.8 L746.6 370.3 L742.4 374.7 L743.1 375.3 L743.9 376.0 L744.8 376.9 L745.9 377.8 L746.9 378.8 L747.9 379.9 L748.8 380.9 L749.5 381.8 L750.2 382.8 L750.8 383.9 L751.4 385.0 L752.0 386.2 L752.6 387.4 L753.1 388.6 L753.6 389.9 L754.1 391.1 L754.5 392.3 L755.0 393.4 L755.3 394.3 L755.6 395.2 L755.8 396.2 L756.0 397.3 L756.2 398.6 L756.4 400.2 L756.4 402.1 L756.4 404.3 L756.4 406.7 L756.3 409.3 L756.2 411.9 L756.0 414.6 L755.9 417.3 L755.8 419.9 L755.7 422.3 L755.5 424.8 L755.3 427.3 L755.2 429.8 L755.0 432.3 L754.9 434.8 L754.8 437.4 L754.7 440.0 L754.7 442.5 L754.7 445.0 L754.8 447.4 L754.8 449.9 L754.9 452.3 L755.0 454.8 L755.1 457.4 L755.1 460.0 L755.1 463.0 L755.1 466.3 L755.1 469.8 L755.1 473.2 L755.1 476.6 L755.0 479.6 L755.0 482.1 L755.0 484.0Z" fill="#7ba55a"/><path d="M757.3 390.0 L757.3 388.6 L757.3 386.7 L757.2 384.4 L757.1 381.9 L757.1 379.2 L757.0 376.6 L757.0 374.2 L757.0 372.0 L757.0 370.0 L757.1 368.0 L757.1 365.9 L757.2 364.0 L757.2 362.1 L757.3 360.5 L757.3 359.1 L757.4 358.1 L753.8 357.9 L753.8 359.0 L753.7 360.3 L753.6 362.0 L753.4 363.8 L753.3 365.8 L753.2 367.8 L753.1 369.9 L753.0 372.0 L752.9 374.2 L752.9 376.6 L752.8 379.2 L752.8 381.9 L752.7 384.4 L752.7 386.7 L752.7 388.6 L752.7 390.0Z" fill="#7ba55a"/><circle cx="744.5" cy="372.5" r="3.02" fill="#7ba55a"/><circle cx="755.6" cy="358.0" r="1.77" fill="#7ba55a"/><rect x="684.4" y="482.8" width="148.6" height="35.2" fill="#87a764"/><rect x="684.4" y="482.8" width="148.6" height="2.5" fill="#76975a"/><rect x="684.4" y="507.4" width="148.6" height="10.6" fill="#749550"/><path d="M829.5 482.8 Q826.5 500.4 829.5 518 L833 518 L833 482.8 Z" fill="#6b8f4a"/><use href="#tree1" transform="translate(0,638)"/><rect x="684.4" y="794.8" width="148.6" height="40.2" fill="#87a764"/><rect x="684.4" y="794.8" width="148.6" height="2.5" fill="#76975a"/><rect x="684.4" y="822.9" width="148.6" height="12.1" fill="#749550"/><path d="M829.5 794.8 Q826.5 814.9 829.5 835 L833 835 L833 794.8 Z" fill="#6b8f4a"/><use href="#neuron1"/><g transform="translate(0,321)"><path d="M1010.9 74.2 L1010.4 73.2 L1009.6 71.9 L1008.7 70.2 L1007.7 68.4 L1006.7 66.6 L1005.6 64.7 L1004.6 63.0 L1003.6 61.4 L1002.6 60.1 L1001.6 58.9 L1000.6 57.8 L999.7 56.7 L998.7 55.7 L997.8 54.7 L997.0 53.7 L996.2 52.6 L995.4 51.4 L994.5 50.3 L993.7 49.0 L993.0 47.8 L992.2 46.6 L991.6 45.5 L991.1 44.3 L990.8 43.3 L990.6 42.2 L990.5 41.2 L990.5 40.1 L990.6 39.1 L990.7 38.0 L991.0 36.9 L991.2 35.9 L991.5 34.8 L991.9 33.7 L992.4 32.7 L992.9 31.7 L993.6 30.6 L994.2 29.5 L994.8 28.4 L995.4 27.1 L995.9 25.8 L996.3 24.4 L996.6 22.7 L996.9 21.0 L997.2 19.3 L997.4 17.6 L997.6 16.2 L997.8 14.9 L997.9 14.0 L996.9 13.8 L996.7 14.7 L996.5 16.0 L996.2 17.5 L996.0 19.1 L995.6 20.8 L995.3 22.5 L994.9 24.0 L994.5 25.4 L994.0 26.5 L993.5 27.7 L992.8 28.7 L992.2 29.8 L991.5 30.9 L990.9 31.9 L990.3 33.1 L989.9 34.2 L989.5 35.4 L989.2 36.5 L988.9 37.6 L988.7 38.8 L988.5 40.0 L988.5 41.2 L988.6 42.5 L988.8 43.7 L989.2 45.0 L989.7 46.4 L990.3 47.7 L991.0 49.0 L991.8 50.3 L992.6 51.5 L993.4 52.8 L994.2 54.0 L995.0 55.2 L995.9 56.3 L996.8 57.4 L997.7 58.4 L998.6 59.5 L999.5 60.6 L1000.4 61.7 L1001.2 63.0 L1002.1 64.4 L1003.1 66.1 L1004.1 68.0 L1005.1 69.9 L1006.0 71.7 L1006.8 73.3 L1007.5 74.7 L1008.1 75.8Z" fill="#8e9c82"/><path d="M996.4 52.4 L996.8 51.7 L997.2 50.6 L997.7 49.4 L998.3 48.0 L999.0 46.7 L999.7 45.4 L1000.5 44.2 L1001.2 43.2 L1002.1 42.4 L1003.1 41.8 L1004.2 41.1 L1005.4 40.6 L1006.6 40.0 L1007.8 39.3 L1009.0 38.6 L1010.0 37.8 L1010.9 36.9 L1011.7 36.0 L1012.5 35.0 L1013.3 34.0 L1013.9 32.9 L1014.5 31.8 L1015.1 30.7 L1015.5 29.4 L1015.9 28.0 L1016.2 26.4 L1016.4 24.6 L1016.5 22.9 L1016.6 21.2 L1016.6 19.7 L1016.7 18.5 L1016.7 17.5 L1015.7 17.5 L1015.6 18.4 L1015.5 19.7 L1015.4 21.2 L1015.3 22.8 L1015.1 24.5 L1014.9 26.2 L1014.6 27.7 L1014.3 29.0 L1013.8 30.1 L1013.3 31.2 L1012.7 32.2 L1012.1 33.2 L1011.4 34.1 L1010.6 35.0 L1009.8 35.8 L1009.0 36.6 L1008.1 37.3 L1007.0 37.9 L1005.9 38.5 L1004.7 39.1 L1003.4 39.7 L1002.2 40.3 L1001.0 41.1 L1000.0 42.0 L999.0 43.1 L998.2 44.4 L997.4 45.8 L996.6 47.2 L996.0 48.6 L995.4 49.8 L995.0 50.8 L994.6 51.6Z" fill="#8e9c82"/><path d="M1010.9 75.4 L1011.1 74.5 L1011.5 73.2 L1011.9 71.7 L1012.4 70.0 L1012.8 68.3 L1013.3 66.6 L1013.8 64.9 L1014.2 63.5 L1014.7 62.2 L1015.1 60.9 L1015.6 59.6 L1016.0 58.4 L1016.5 57.1 L1016.9 55.9 L1017.3 54.8 L1017.7 53.6 L1018.0 52.6 L1018.3 51.6 L1018.6 50.7 L1018.9 49.7 L1019.1 48.7 L1019.3 47.7 L1019.4 46.5 L1019.3 45.2 L1019.2 43.6 L1018.8 41.8 L1018.4 39.8 L1018.0 37.8 L1017.5 35.9 L1017.0 34.2 L1016.6 32.7 L1016.4 31.7 L1015.2 31.9 L1015.4 33.0 L1015.8 34.5 L1016.2 36.2 L1016.6 38.2 L1017.0 40.1 L1017.3 42.0 L1017.5 43.8 L1017.7 45.2 L1017.6 46.4 L1017.5 47.4 L1017.3 48.4 L1017.1 49.2 L1016.8 50.1 L1016.5 51.0 L1016.1 51.9 L1015.7 53.0 L1015.4 54.1 L1014.9 55.2 L1014.5 56.4 L1014.0 57.6 L1013.5 58.8 L1013.0 60.1 L1012.5 61.4 L1012.0 62.7 L1011.5 64.2 L1010.9 65.8 L1010.3 67.6 L1009.8 69.3 L1009.3 70.9 L1008.8 72.4 L1008.4 73.7 L1008.1 74.6Z" fill="#8e9c82"/><path d="M1019.1 45.7 L1019.5 45.2 L1020.0 44.6 L1020.5 43.8 L1021.2 43.0 L1021.8 42.1 L1022.4 41.2 L1023.0 40.2 L1023.5 39.3 L1023.9 38.3 L1024.3 37.3 L1024.6 36.2 L1024.9 35.2 L1025.2 34.2 L1025.4 33.3 L1025.6 32.5 L1025.7 32.0 L1024.7 31.6 L1024.5 32.2 L1024.3 33.0 L1024.0 33.9 L1023.7 34.8 L1023.4 35.9 L1023.1 36.9 L1022.7 37.8 L1022.3 38.7 L1021.8 39.5 L1021.3 40.4 L1020.6 41.2 L1020.0 42.1 L1019.3 42.9 L1018.7 43.6 L1018.2 44.2 L1017.9 44.7Z" fill="#8e9c82"/><path d="M1010.8 87.2 L1011.2 86.9 L1011.8 86.5 L1012.6 86.1 L1013.4 85.5 L1014.3 84.9 L1015.1 84.3 L1016.0 83.7 L1016.8 83.1 L1017.5 82.5 L1018.3 82.0 L1019.0 81.5 L1019.8 80.9 L1020.5 80.2 L1021.3 79.4 L1022.2 78.5 L1023.0 77.3 L1023.9 76.0 L1024.8 74.5 L1025.8 72.8 L1026.7 71.1 L1027.7 69.3 L1028.6 67.6 L1029.4 66.0 L1030.2 64.5 L1030.9 63.2 L1031.5 62.0 L1032.0 60.8 L1032.6 59.7 L1033.1 58.6 L1033.6 57.6 L1034.0 56.6 L1034.6 55.6 L1035.1 54.7 L1035.7 53.8 L1036.3 53.0 L1036.9 52.1 L1037.5 51.2 L1038.1 50.3 L1038.5 49.3 L1038.9 48.2 L1039.2 47.1 L1039.5 46.1 L1039.6 45.0 L1039.7 44.0 L1039.7 42.8 L1039.8 41.5 L1039.8 39.9 L1039.8 38.1 L1039.8 35.8 L1039.7 33.0 L1039.6 29.9 L1039.5 26.7 L1039.4 23.6 L1039.3 20.7 L1039.2 18.3 L1039.1 16.6 L1038.1 16.6 L1038.1 18.4 L1038.1 20.8 L1038.2 23.6 L1038.2 26.8 L1038.2 30.0 L1038.3 33.1 L1038.3 35.8 L1038.2 38.1 L1038.2 39.9 L1038.1 41.4 L1038.1 42.7 L1038.0 43.8 L1037.9 44.8 L1037.7 45.7 L1037.5 46.7 L1037.3 47.6 L1036.9 48.5 L1036.4 49.4 L1035.9 50.2 L1035.4 51.0 L1034.7 51.8 L1034.1 52.7 L1033.5 53.6 L1032.8 54.6 L1032.3 55.6 L1031.7 56.7 L1031.2 57.7 L1030.7 58.8 L1030.1 59.9 L1029.6 61.0 L1028.9 62.2 L1028.2 63.5 L1027.4 64.9 L1026.6 66.5 L1025.6 68.2 L1024.7 69.9 L1023.7 71.6 L1022.7 73.2 L1021.8 74.7 L1021.0 75.9 L1020.2 76.8 L1019.5 77.6 L1018.8 78.2 L1018.1 78.8 L1017.4 79.3 L1016.7 79.8 L1015.9 80.4 L1015.2 80.9 L1014.4 81.5 L1013.6 82.1 L1012.7 82.6 L1011.9 83.2 L1011.1 83.7 L1010.3 84.1 L1009.7 84.5 L1009.2 84.8Z" fill="#8e9c82"/><path d="M1039.3 37.8 L1038.7 37.5 L1037.9 37.2 L1037.0 36.8 L1036.0 36.4 L1034.9 35.9 L1034.0 35.4 L1033.1 34.7 L1032.4 34.1 L1031.9 33.3 L1031.3 32.2 L1030.8 30.9 L1030.4 29.6 L1030.0 28.4 L1029.7 27.2 L1029.4 26.2 L1029.2 25.5 L1028.2 25.7 L1028.4 26.5 L1028.7 27.4 L1029.0 28.6 L1029.3 30.0 L1029.7 31.3 L1030.2 32.7 L1030.7 33.9 L1031.4 34.9 L1032.2 35.8 L1033.2 36.5 L1034.2 37.2 L1035.3 37.7 L1036.4 38.2 L1037.3 38.6 L1038.1 39.0 L1038.7 39.2Z" fill="#8e9c82"/><path d="M1038.5 48.6 L1039.2 48.2 L1040.3 47.6 L1041.5 46.8 L1042.9 46.0 L1044.3 45.2 L1045.5 44.5 L1046.6 43.9 L1047.3 43.4 L1046.9 42.6 L1046.1 43.0 L1045.0 43.5 L1043.7 44.2 L1042.3 44.9 L1040.9 45.6 L1039.6 46.2 L1038.5 46.8 L1037.7 47.2Z" fill="#8e9c82"/><path d="M1030.4 66.7 L1031.4 66.4 L1032.6 65.9 L1034.1 65.4 L1035.7 64.8 L1037.5 64.1 L1039.3 63.5 L1041.1 62.8 L1042.9 62.1 L1044.7 61.4 L1046.8 60.6 L1049.0 59.8 L1051.2 59.0 L1053.3 58.2 L1055.2 57.5 L1056.8 56.9 L1058.0 56.5 L1057.6 55.5 L1056.4 55.9 L1054.8 56.5 L1052.9 57.1 L1050.8 57.8 L1048.6 58.6 L1046.3 59.3 L1044.2 60.0 L1042.3 60.7 L1040.6 61.3 L1038.7 61.9 L1036.9 62.5 L1035.1 63.1 L1033.4 63.6 L1032.0 64.1 L1030.7 64.5 L1029.8 64.9Z" fill="#8e9c82"/><path d="M985.4 159.9 L985.4 159.0 L985.3 157.7 L985.3 156.1 L985.2 154.4 L985.1 152.6 L985.0 150.9 L985.0 149.3 L984.9 147.8 L984.8 146.6 L984.7 145.4 L984.6 144.3 L984.4 143.4 L984.3 142.5 L984.3 141.7 L984.2 141.0 L984.3 140.2 L984.3 139.3 L984.3 138.3 L984.4 137.5 L984.4 136.8 L984.5 136.3 L984.7 135.8 L984.9 135.3 L985.1 134.9 L985.4 134.5 L986.0 134.0 L986.9 133.4 L987.9 132.8 L989.0 132.1 L990.2 131.4 L991.4 130.6 L992.4 129.7 L993.2 129.0 L994.1 128.3 L995.0 127.5 L996.0 126.7 L996.9 125.7 L997.8 124.5 L998.5 123.0 L998.8 121.3 L998.8 119.6 L998.6 117.8 L998.1 116.1 L997.5 114.4 L996.9 112.8 L996.2 111.2 L995.6 109.7 L995.0 108.4 L994.3 107.1 L993.5 105.8 L992.7 104.7 L991.9 103.8 L991.2 103.0 L990.8 102.3 L990.6 101.9 L990.5 101.7 L990.5 101.5 L990.5 101.3 L990.6 101.0 L990.8 100.7 L991.2 100.3 L991.6 99.8 L992.2 99.3 L992.9 98.8 L993.7 98.4 L994.7 97.9 L995.9 97.4 L997.3 96.9 L998.8 96.4 L1000.2 95.8 L1001.7 95.2 L1003.0 94.6 L1004.1 94.0 L1005.2 93.4 L1006.4 92.7 L1007.5 92.1 L1008.5 91.3 L1009.5 90.5 L1010.5 89.6 L1011.3 88.5 L1011.8 87.2 L1012.2 86.0 L1012.4 84.7 L1012.5 83.4 L1012.5 82.2 L1012.5 81.0 L1012.4 80.0 L1012.4 79.0 L1012.4 77.9 L1012.2 76.8 L1012.1 75.7 L1011.9 74.7 L1011.7 73.7 L1011.5 72.9 L1011.4 72.2 L1011.3 71.7 L1007.7 72.3 L1007.8 72.9 L1007.9 73.6 L1008.1 74.4 L1008.2 75.3 L1008.4 76.2 L1008.5 77.2 L1008.6 78.1 L1008.6 79.0 L1008.6 80.0 L1008.6 81.1 L1008.6 82.2 L1008.5 83.2 L1008.4 84.2 L1008.3 85.0 L1008.1 85.7 L1007.7 86.3 L1007.3 86.8 L1006.8 87.4 L1006.1 87.9 L1005.2 88.5 L1004.3 89.0 L1003.2 89.5 L1002.1 90.1 L1001.0 90.6 L999.9 91.1 L998.7 91.6 L997.3 92.1 L995.8 92.5 L994.3 93.0 L992.9 93.5 L991.5 94.1 L990.3 94.8 L989.3 95.5 L988.4 96.1 L987.6 96.9 L986.9 97.7 L986.3 98.7 L985.8 99.8 L985.5 101.0 L985.5 102.3 L985.8 103.7 L986.4 104.9 L987.1 106.0 L987.8 106.9 L988.5 107.9 L989.2 108.8 L989.7 109.7 L990.2 110.6 L990.7 111.8 L991.2 113.2 L991.8 114.7 L992.3 116.2 L992.8 117.6 L993.1 118.9 L993.2 120.0 L993.2 120.7 L993.1 121.1 L992.8 121.5 L992.5 121.9 L992.0 122.4 L991.3 123.0 L990.4 123.7 L989.5 124.4 L988.6 125.1 L987.8 125.7 L986.9 126.3 L985.9 126.9 L984.7 127.5 L983.5 128.2 L982.3 129.0 L981.2 129.9 L980.1 131.1 L979.3 132.3 L978.7 133.5 L978.3 134.7 L978.1 135.9 L978.0 136.9 L977.9 137.9 L977.8 138.9 L977.7 139.8 L977.7 140.9 L977.7 142.0 L977.7 143.0 L977.8 144.0 L977.9 145.0 L978.0 146.0 L978.1 147.0 L978.1 148.2 L978.1 149.5 L978.1 151.1 L978.2 152.8 L978.2 154.6 L978.2 156.3 L978.2 157.8 L978.2 159.1 L978.2 160.1Z" fill="#7a9f6b" stroke="#7a9f6b" stroke-width="1.6" stroke-linejoin="round"/><path d="M979.5 150C978.5 150.8 978.5 153.3 977.8 155C977 156.7 976.2 157.7 975 160C973.8 162.3 971.4 165.3 970.3 168.8C969.2 172.3 968.5 177.7 968.2 181.1C967.9 184.5 967.8 186.8 968.4 189.3C969 191.8 970.4 193.9 972 196C973.6 198.1 975 200.2 978 202C981 203.8 985.7 206 990 207.1C994.3 208.2 1000.2 207.7 1003.8 208.8C1007.4 210 1009.2 211.9 1011.5 214C1013.8 216.1 1015.3 219.2 1017.5 221.5C1019.7 223.8 1021.9 225.8 1024.8 228C1027.7 230.2 1032.5 234.1 1035 234.8C1037.5 235.6 1039.9 233.9 1039.5 232.5C1039.1 231.1 1035.3 228.8 1032.5 226.3C1029.7 223.8 1025.2 220.4 1022.5 217.5C1019.8 214.6 1017.5 211.9 1016 209C1014.5 206.1 1013.7 204 1013.4 200.3C1013.1 196.6 1014.2 190.3 1014 186.6C1013.8 182.9 1012.8 180.3 1012 178C1011.2 175.7 1010.5 174.7 1009.2 172.9C1007.9 171.1 1005.6 168.8 1004 167C1002.4 165.2 1001.7 163.8 999.7 162C997.7 160.2 994.2 157.7 992 156C989.8 154.3 987.8 153 986.5 152C985.2 151 985.2 150.3 984 150C982.8 149.7 980.5 149.2 979.5 150Z" fill="#789c69" stroke="#789c69" stroke-width="2.2"/><path d="M985.4 159.9 L985.4 159.0 L985.3 157.7 L985.3 156.1 L985.2 154.4 L985.1 152.6 L985.0 150.9 L985.0 149.3 L984.9 147.8 L984.8 146.6 L984.7 145.4 L984.6 144.3 L984.4 143.4 L984.3 142.5 L984.3 141.7 L984.2 141.0 L984.3 140.2 L984.3 139.3 L984.3 138.3 L984.4 137.5 L984.4 136.8 L984.5 136.3 L984.7 135.8 L984.9 135.3 L985.1 134.9 L985.4 134.5 L986.0 134.0 L986.9 133.4 L987.9 132.8 L989.0 132.1 L990.2 131.4 L991.4 130.6 L992.4 129.7 L993.2 129.0 L994.1 128.3 L995.0 127.5 L996.0 126.7 L996.9 125.7 L997.8 124.5 L998.5 123.0 L998.8 121.3 L998.8 119.6 L998.6 117.8 L998.1 116.1 L997.5 114.4 L996.9 112.8 L996.2 111.2 L995.6 109.7 L995.0 108.4 L994.3 107.1 L993.5 105.8 L992.7 104.7 L991.9 103.8 L991.2 103.0 L990.8 102.3 L990.6 101.9 L990.5 101.7 L990.5 101.5 L990.5 101.3 L990.6 101.0 L990.8 100.7 L991.2 100.3 L991.6 99.8 L992.2 99.3 L992.9 98.8 L993.7 98.4 L994.7 97.9 L995.9 97.4 L997.3 96.9 L998.8 96.4 L1000.2 95.8 L1001.7 95.2 L1003.0 94.6 L1004.1 94.0 L1005.2 93.4 L1006.4 92.7 L1007.5 92.1 L1008.5 91.3 L1009.5 90.5 L1010.5 89.6 L1011.3 88.5 L1011.8 87.2 L1012.2 86.0 L1012.4 84.7 L1012.5 83.4 L1012.5 82.2 L1012.5 81.0 L1012.4 80.0 L1012.4 79.0 L1012.4 77.9 L1012.2 76.8 L1012.1 75.7 L1011.9 74.7 L1011.7 73.7 L1011.5 72.9 L1011.4 72.2 L1011.3 71.7 L1007.7 72.3 L1007.8 72.9 L1007.9 73.6 L1008.1 74.4 L1008.2 75.3 L1008.4 76.2 L1008.5 77.2 L1008.6 78.1 L1008.6 79.0 L1008.6 80.0 L1008.6 81.1 L1008.6 82.2 L1008.5 83.2 L1008.4 84.2 L1008.3 85.0 L1008.1 85.7 L1007.7 86.3 L1007.3 86.8 L1006.8 87.4 L1006.1 87.9 L1005.2 88.5 L1004.3 89.0 L1003.2 89.5 L1002.1 90.1 L1001.0 90.6 L999.9 91.1 L998.7 91.6 L997.3 92.1 L995.8 92.5 L994.3 93.0 L992.9 93.5 L991.5 94.1 L990.3 94.8 L989.3 95.5 L988.4 96.1 L987.6 96.9 L986.9 97.7 L986.3 98.7 L985.8 99.8 L985.5 101.0 L985.5 102.3 L985.8 103.7 L986.4 104.9 L987.1 106.0 L987.8 106.9 L988.5 107.9 L989.2 108.8 L989.7 109.7 L990.2 110.6 L990.7 111.8 L991.2 113.2 L991.8 114.7 L992.3 116.2 L992.8 117.6 L993.1 118.9 L993.2 120.0 L993.2 120.7 L993.1 121.1 L992.8 121.5 L992.5 121.9 L992.0 122.4 L991.3 123.0 L990.4 123.7 L989.5 124.4 L988.6 125.1 L987.8 125.7 L986.9 126.3 L985.9 126.9 L984.7 127.5 L983.5 128.2 L982.3 129.0 L981.2 129.9 L980.1 131.1 L979.3 132.3 L978.7 133.5 L978.3 134.7 L978.1 135.9 L978.0 136.9 L977.9 137.9 L977.8 138.9 L977.7 139.8 L977.7 140.9 L977.7 142.0 L977.7 143.0 L977.8 144.0 L977.9 145.0 L978.0 146.0 L978.1 147.0 L978.1 148.2 L978.1 149.5 L978.1 151.1 L978.2 152.8 L978.2 154.6 L978.2 156.3 L978.2 157.8 L978.2 159.1 L978.2 160.1Z" fill="#8fbb80"/><path d="M979.5 150C978.5 150.8 978.5 153.3 977.8 155C977 156.7 976.2 157.7 975 160C973.8 162.3 971.4 165.3 970.3 168.8C969.2 172.3 968.5 177.7 968.2 181.1C967.9 184.5 967.8 186.8 968.4 189.3C969 191.8 970.4 193.9 972 196C973.6 198.1 975 200.2 978 202C981 203.8 985.7 206 990 207.1C994.3 208.2 1000.2 207.7 1003.8 208.8C1007.4 210 1009.2 211.9 1011.5 214C1013.8 216.1 1015.3 219.2 1017.5 221.5C1019.7 223.8 1021.9 225.8 1024.8 228C1027.7 230.2 1032.5 234.1 1035 234.8C1037.5 235.6 1039.9 233.9 1039.5 232.5C1039.1 231.1 1035.3 228.8 1032.5 226.3C1029.7 223.8 1025.2 220.4 1022.5 217.5C1019.8 214.6 1017.5 211.9 1016 209C1014.5 206.1 1013.7 204 1013.4 200.3C1013.1 196.6 1014.2 190.3 1014 186.6C1013.8 182.9 1012.8 180.3 1012 178C1011.2 175.7 1010.5 174.7 1009.2 172.9C1007.9 171.1 1005.6 168.8 1004 167C1002.4 165.2 1001.7 163.8 999.7 162C997.7 160.2 994.2 157.7 992 156C989.8 154.3 987.8 153 986.5 152C985.2 151 985.2 150.3 984 150C982.8 149.7 980.5 149.2 979.5 150Z" fill="#8fbb80"/><ellipse cx="991.5" cy="184.6" rx="12" ry="11" fill="#4b5faa" stroke="#98c2aa" stroke-width="2.2"/></g><use href="#neuron1" transform="translate(0,647)"/><path d="M22 591 L177 554 L177 591 Z" fill="url(#pr)"/><path d="M6.5 880 L6.5 916.5 L166.7 916.5 Z" fill="url(#pl)"/><circle cx="308.7" cy="401.3" r="5.2" fill="#e9a7ae" fill-opacity="0.55"/><circle cx="308.7" cy="401.3" r="3.4" fill="#7a2930" stroke="#62201f" stroke-width="0.5"/><circle cx="323.3" cy="410" r="5.2" fill="#e9a7ae" fill-opacity="0.55"/><circle cx="323.3" cy="410" r="3.4" fill="#7a2930" stroke="#62201f" stroke-width="0.5"/><circle cx="338.3" cy="416.3" r="5.2" fill="#e9a7ae" fill-opacity="0.55"/><circle cx="338.3" cy="416.3" r="3.4" fill="#7a2930" stroke="#62201f" stroke-width="0.5"/><circle cx="304.5" cy="418.3" r="5.2" fill="#e9a7ae" fill-opacity="0.55"/><circle cx="304.5" cy="418.3" r="3.4" fill="#7a2930" stroke="#62201f" stroke-width="0.5"/><circle cx="261.7" cy="426.3" r="5.2" fill="#e9a7ae" fill-opacity="0.55"/><circle cx="261.7" cy="426.3" r="3.4" fill="#7a2930" stroke="#62201f" stroke-width="0.5"/><circle cx="276.3" cy="434.7" r="5.2" fill="#e9a7ae" fill-opacity="0.55"/><circle cx="276.3" cy="434.7" r="3.4" fill="#7a2930" stroke="#62201f" stroke-width="0.5"/><circle cx="297.5" cy="429.7" r="5.2" fill="#e9a7ae" fill-opacity="0.55"/><circle cx="297.5" cy="429.7" r="3.4" fill="#7a2930" stroke="#62201f" stroke-width="0.5"/><circle cx="257.5" cy="442.8" r="5.2" fill="#e9a7ae" fill-opacity="0.55"/><circle cx="257.5" cy="442.8" r="3.4" fill="#7a2930" stroke="#62201f" stroke-width="0.5"/><circle cx="338.3" cy="434.2" r="5.2" fill="#e9a7ae" fill-opacity="0.55"/><circle cx="338.3" cy="434.2" r="3.4" fill="#7a2930" stroke="#62201f" stroke-width="0.5"/><circle cx="361.7" cy="439.2" r="5.2" fill="#e9a7ae" fill-opacity="0.55"/><circle cx="361.7" cy="439.2" r="3.4" fill="#7a2930" stroke="#62201f" stroke-width="0.5"/><circle cx="297.5" cy="447.5" r="5.2" fill="#e9a7ae" fill-opacity="0.55"/><circle cx="297.5" cy="447.5" r="3.4" fill="#7a2930" stroke="#62201f" stroke-width="0.5"/><circle cx="315" cy="447.5" r="5.2" fill="#e9a7ae" fill-opacity="0.55"/><circle cx="315" cy="447.5" r="3.4" fill="#7a2930" stroke="#62201f" stroke-width="0.5"/><circle cx="436.3" cy="401.7" r="5.2" fill="#e9a7ae" fill-opacity="0.55"/><circle cx="436.3" cy="401.7" r="3.4" fill="#7a2930" stroke="#62201f" stroke-width="0.5"/><circle cx="421.7" cy="410" r="5.2" fill="#e9a7ae" fill-opacity="0.55"/><circle cx="421.7" cy="410" r="3.4" fill="#7a2930" stroke="#62201f" stroke-width="0.5"/><circle cx="409.5" cy="416.2" r="5.2" fill="#e9a7ae" fill-opacity="0.55"/><circle cx="409.5" cy="416.2" r="3.4" fill="#7a2930" stroke="#62201f" stroke-width="0.5"/><circle cx="440.5" cy="418" r="5.2" fill="#e9a7ae" fill-opacity="0.55"/><circle cx="440.5" cy="418" r="3.4" fill="#7a2930" stroke="#62201f" stroke-width="0.5"/><circle cx="474.2" cy="416.3" r="5.2" fill="#e9a7ae" fill-opacity="0.55"/><circle cx="474.2" cy="416.3" r="3.4" fill="#7a2930" stroke="#62201f" stroke-width="0.5"/><circle cx="488.7" cy="424.2" r="5.2" fill="#e9a7ae" fill-opacity="0.55"/><circle cx="488.7" cy="424.2" r="3.4" fill="#7a2930" stroke="#62201f" stroke-width="0.5"/><circle cx="452.2" cy="427.2" r="5.2" fill="#e9a7ae" fill-opacity="0.55"/><circle cx="452.2" cy="427.2" r="3.4" fill="#7a2930" stroke="#62201f" stroke-width="0.5"/><circle cx="470" cy="432.5" r="5.2" fill="#e9a7ae" fill-opacity="0.55"/><circle cx="470" cy="432.5" r="3.4" fill="#7a2930" stroke="#62201f" stroke-width="0.5"/><circle cx="409.5" cy="434.2" r="5.2" fill="#e9a7ae" fill-opacity="0.55"/><circle cx="409.5" cy="434.2" r="3.4" fill="#7a2930" stroke="#62201f" stroke-width="0.5"/><circle cx="433.3" cy="437.5" r="5.2" fill="#e9a7ae" fill-opacity="0.55"/><circle cx="433.3" cy="437.5" r="3.4" fill="#7a2930" stroke="#62201f" stroke-width="0.5"/><circle cx="452" cy="445.7" r="5.2" fill="#e9a7ae" fill-opacity="0.55"/><circle cx="452" cy="445.7" r="3.4" fill="#7a2930" stroke="#62201f" stroke-width="0.5"/><circle cx="475.5" cy="450.2" r="5.2" fill="#e9a7ae" fill-opacity="0.55"/><circle cx="475.5" cy="450.2" r="3.4" fill="#7a2930" stroke="#62201f" stroke-width="0.5"/><path d="M488.3 364.2 L455 388" stroke="#1b1b1b" stroke-width="2.2"/><path d="M445.8 395 L452.5 379.2 L463.3 390.8 Z" fill="#1b1b1b"/>
<path d="M85.9 161.5 H148.2 V148 L195.8 171.6 L148.2 195.2 V181.7 H85.9 Z" fill="url(#ag0)"/><path d="M557 169.3 H620 V154.4 L668.1 178.1 L620 202.6 V187.8 H557 Z" fill="url(#ag1)"/><path d="M843.3 172.5 H906.7 V158.3 L954.2 181.7 L906.7 205.8 V191.7 H843.3 Z" fill="url(#ag2)"/><path d="M86 479.6 H160 V474 L183.6 485.6 L160 497 V491 H86 Z" fill="url(#ag3)"/><path d="M557.8 494.9 H632.6 V488.5 L656.3 500.4 L632.6 512.2 V506.3 H557.8 Z" fill="url(#ag4)"/><path d="M850.7 495.9 H927 V490 L950 501.4 L927 513.3 V507.3 H850.7 Z" fill="url(#ag5)"/><path d="M76.7 796.5 H139.2 V782.3 L186.1 806.5 L139.2 830 V816.4 H76.7 Z" fill="url(#ag6)"/><path d="M557.8 803.8 H620 V789.3 L668.1 813.3 L620 837 V822.6 H557.8 Z" fill="url(#ag7)"/><path d="M844 810 H906.3 V795.2 L953.7 818.9 L906.3 842.9 V828.5 H844 Z" fill="url(#ag8)"/><text x="113" y="127.9" font-size="25" font-weight="normal" textLength="45.6" lengthAdjust="spacingAndGlyphs">CSF</text><text x="97.3" y="231.9" font-size="25" font-weight="normal" textLength="85.1" lengthAdjust="spacingAndGlyphs">Normal</text><text x="699.2" y="228.1" font-size="25" font-weight="normal" textLength="119.2" lengthAdjust="spacingAndGlyphs">meningeal</text><text x="703.6" y="257" font-size="25" font-weight="normal" textLength="110.8" lengthAdjust="spacingAndGlyphs">lymphatic</text><text x="705.6" y="285.9" font-size="25" font-weight="normal" textLength="107.8" lengthAdjust="spacingAndGlyphs">sprouting</text><text x="945.4" y="266.3" font-size="25" font-weight="normal" textLength="132.6" lengthAdjust="spacingAndGlyphs">lymph node</text><text x="962.4" y="295.2" font-size="25" font-weight="normal" textLength="98.6" lengthAdjust="spacingAndGlyphs">drainage</text><text x="181" y="369.3" font-size="25" font-weight="normal" textLength="141.8" lengthAdjust="spacingAndGlyphs">(-) brain-CSF</text><text x="181" y="398.1" font-size="25" font-weight="normal" textLength="109" lengthAdjust="spacingAndGlyphs">perfusion</text><text x="495.2" y="352.9" font-size="25" font-weight="normal" textLength="76.6" lengthAdjust="spacingAndGlyphs">waste/</text><text x="494.2" y="381.5" font-size="25" font-weight="normal" textLength="133.2" lengthAdjust="spacingAndGlyphs">neurotoxins</text><text x="2" y="525" font-size="25" font-weight="normal" textLength="196" lengthAdjust="spacingAndGlyphs">Craniosynostosis</text><text x="46" y="622.4" font-size="25" font-weight="normal" textLength="116" lengthAdjust="spacingAndGlyphs">raised ICP</text><text x="722.8" y="557.3" font-size="25" font-weight="normal" textLength="224.4" lengthAdjust="spacingAndGlyphs">impaired meningeal</text><text x="722.8" y="585.6" font-size="25" font-weight="normal" textLength="233.8" lengthAdjust="spacingAndGlyphs">lymphatics/drainage</text><text x="455.4" y="676.5" font-size="25" font-weight="normal" textLength="148.6" lengthAdjust="spacingAndGlyphs">(+) brain-CSF</text><text x="455" y="705.2" font-size="25" font-weight="normal" textLength="108.8" lengthAdjust="spacingAndGlyphs">perfusion</text><text x="74.4" y="724.6" font-size="27" font-weight="bold" textLength="92" lengthAdjust="spacingAndGlyphs">Piezo1</text><text x="55.6" y="758.5" font-size="27" font-weight="bold" textLength="135.4" lengthAdjust="spacingAndGlyphs">activation</text><text x="1.8" y="861.9" font-size="25" font-weight="normal" textLength="196.2" lengthAdjust="spacingAndGlyphs">Craniosynostosis</text><text x="35" y="947" font-size="25" font-weight="normal" textLength="139.2" lengthAdjust="spacingAndGlyphs">reduced ICP</text><text x="722.8" y="879.3" font-size="25" font-weight="normal" textLength="220.2" lengthAdjust="spacingAndGlyphs">restored meningeal</text><text x="722.8" y="907.5" font-size="25" font-weight="normal" textLength="233.8" lengthAdjust="spacingAndGlyphs">lymphatics/drainage</text></svg></body></html>
